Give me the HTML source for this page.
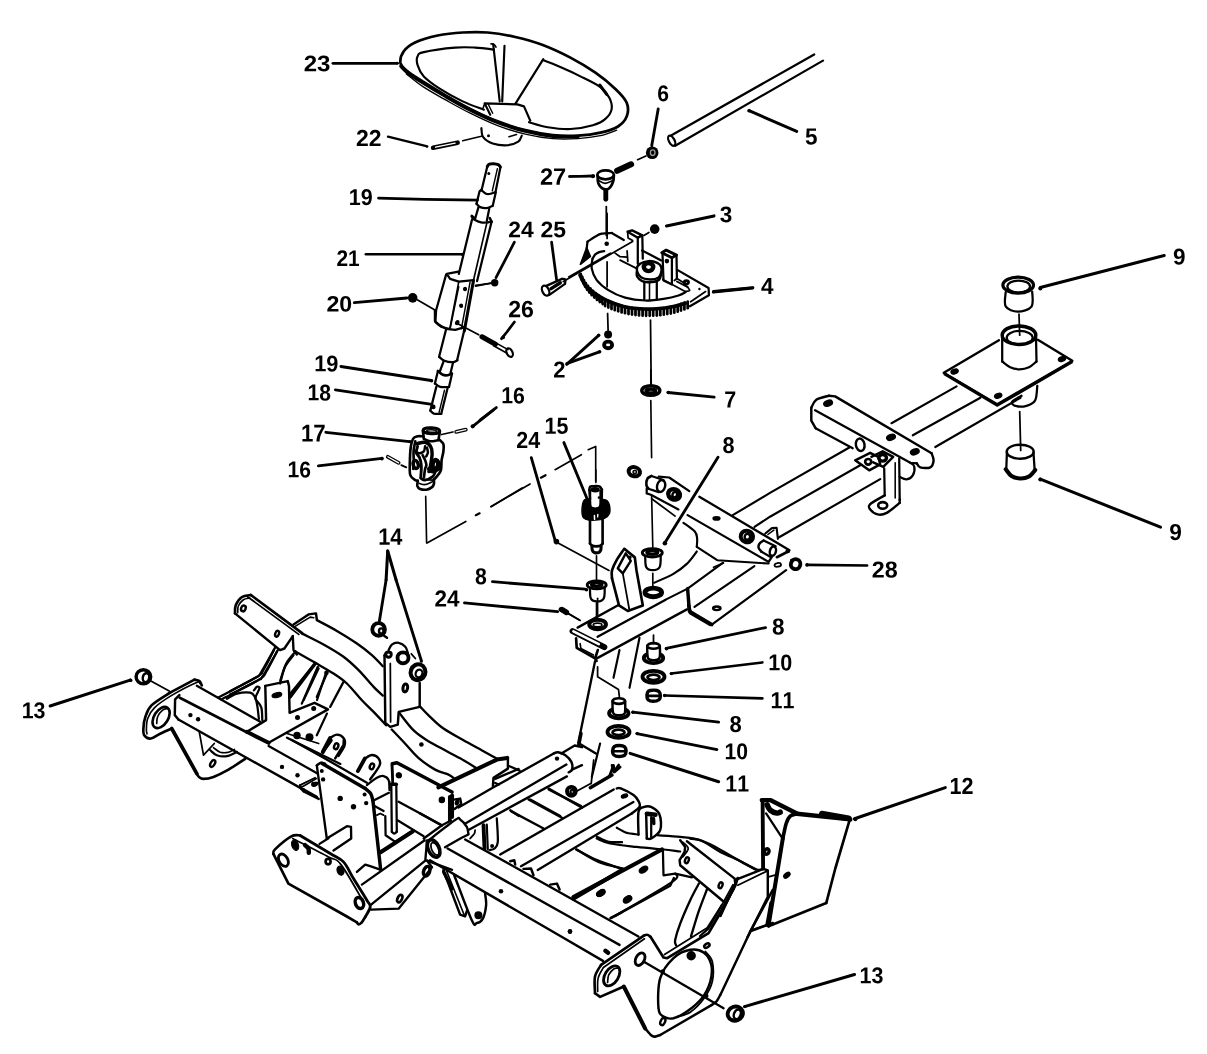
<!DOCTYPE html>
<html><head><meta charset="utf-8"><title>Steering Assembly Diagram</title>
<style>html,body{margin:0;padding:0;background:#fff}svg{display:block;filter:grayscale(1)}text{font-family:"Liberation Sans",sans-serif;font-weight:700;fill:#000;stroke:none;text-rendering:geometricPrecision;font-kerning:none;font-feature-settings:"kern" 0,"liga" 0}</style></head>
<body><svg width="1207" height="1054" viewBox="0 0 1207 1054">
<rect width="1207" height="1054" fill="#fff"/>
<g fill="none" stroke="#000" stroke-linecap="round" stroke-linejoin="round">
<path d="M400.5 63.1 C399.9 59.7 401.4 54.7 403.8 51.3 C406.2 47.9 409.4 45.2 415.1 42.5 C420.7 39.9 429.7 37.2 437.6 35.5 C445.5 33.9 454.3 33 462.7 32.5 C471 32 478.9 31.8 487.7 32.5 C496.5 33.3 506.1 34.9 515.3 37 C524.4 39.1 533.6 41.6 542.8 45 C552 48.5 561.6 53 570.4 57.6 C579.1 62.2 587.9 67.4 595.4 72.6 C602.9 77.8 610.2 83.9 615.4 88.9 C620.7 93.9 624.8 98.1 626.7 102.7 C628.6 107.2 628.2 112.5 626.7 116.4 C625.3 120.4 622.3 123.7 618 126.5 C613.6 129.2 607.1 131.2 600.4 132.7 C593.7 134.3 585.8 135.3 577.9 135.7 C569.9 136.1 561.6 136.1 552.8 135.2 C544.1 134.3 534.5 132.5 525.3 130.2 C516.1 127.9 506.9 125 497.7 121.4 C488.5 117.9 478.9 113.3 470.2 108.9 C461.4 104.5 453.1 99.7 445.1 95.1 C437.2 90.6 428.8 85.3 422.6 81.4 C416.3 77.4 411.2 74.4 407.6 71.3 C403.9 68.3 401.2 66.4 400.5 63.1Z" stroke-width="2.75" fill="none"/>
<path d="M401 66.3 C402.1 67.4 404 69.9 407.6 72.6 C411.1 75.3 416.3 78.7 422.6 82.6 C428.8 86.5 437.2 91.6 445.1 96.1 C453.1 100.7 461.4 105.5 470.2 109.9 C478.9 114.3 488.5 118.9 497.7 122.4 C506.9 126 516.1 128.9 525.3 131.2 C534.5 133.5 544.1 135.3 552.8 136.2 C561.6 137.1 573.7 136.6 577.9 136.7" stroke-width="3.45" fill="none"/>
<path d="M406.3 73.9 C409 75.9 416.1 82.1 422.6 86.4 C429.1 90.7 437.2 95.2 445.1 99.7 C453.1 104.1 461.4 108.8 470.2 113.2 C478.9 117.5 488.5 122.2 497.7 125.7 C506.9 129.2 516.1 132 525.3 134.2 C534.5 136.4 544.1 138 552.8 138.7 C561.6 139.5 569.9 139.2 577.9 138.7 C585.8 138.2 593.9 137.1 600.4 135.7 C606.9 134.3 614 131.1 616.7 130.2" stroke-width="1.35" fill="none"/>
<path d="M494 49.6 C490.8 49.2 481.7 47.9 475.2 47.6 C468.7 47.2 463.7 46.8 455.1 47.6 C446.6 48.3 430.1 50.6 423.8 52.1 C417.6 53.5 418.6 54.1 417.6 56.3 C416.5 58.5 416.5 61.7 417.6 65.1 C418.6 68.4 420.1 72.4 423.8 76.4 C427.6 80.3 433.6 84.7 440.1 88.9 C446.6 93.1 455.4 97.9 462.7 101.4 C470 104.9 480.4 108.3 483.9 109.7" stroke-width="2.15" fill="none"/>
<path d="M542.8 60.1 C545.7 61.2 554.1 64.4 560.3 67.1 C566.6 69.8 573.7 73 580.4 76.4 C587.1 79.7 595.6 83.6 600.4 87.1 C605.2 90.7 607.3 94 609.2 97.6 C611.1 101.3 612.3 105.4 611.7 108.9 C611.1 112.5 608.6 116.2 605.4 118.9 C602.3 121.7 598.7 123.5 592.9 125.2 C587.1 126.9 577.9 128.6 570.4 129 C562.8 129.3 554.7 128.3 547.8 127.2 C540.9 126.1 532.2 123 529 122.2" stroke-width="2.15" fill="none"/>
<path d="M599.9 85.1 L606.7 94.4" stroke-width="3.05" fill="none"/>
<path d="M493.2 44.3 L499.7 101.4" stroke-width="2.15" fill="none"/>
<path d="M504.5 45.8 L502.2 101.4" stroke-width="2.15" fill="none"/>
<path d="M491 43.8 C491.5 43.9 493.1 44 494 44.5 C494.8 45.1 495.6 46.6 496 47.1" stroke-width="1.65" fill="none"/>
<path d="M543.3 59.1 L515.3 103.9" stroke-width="2.15" fill="none"/>
<path d="M490.2 114.7 L484.7 103.4 L517.3 104.4 L524 106.4 L530.3 120.7" stroke-width="2.15" fill="none"/>
<path d="M484.7 103.4 L483.2 107.7" stroke-width="1.65" fill="none"/>
<path d="M488.5 104.7 L492.7 113.2" stroke-width="1.45" fill="none"/>
<path d="M481.4 128.2 C481.7 129.7 481.3 134.7 483.2 137.2 C485.1 139.8 488.6 142.1 492.7 143.5 C496.8 144.8 503.5 145.5 507.7 145.2 C512 144.9 515.9 143.3 518.3 141.7 C520.6 140.1 521.2 136.7 521.8 135.7" stroke-width="2.15" fill="none"/>
<circle cx="488.5" cy="135.7" r="1.5" fill="#000" stroke="none"/>
<path d="M509 136.7 L516.5 134.5" stroke-width="1.65" fill="none"/>
<path d="M433.1 147.7 L457.6 142.7" stroke-width="4.65" fill="none"/>
<path d="M435.6 147.2 L455.1 143.2" stroke-width="1.35" fill="none" stroke="#fff"/>
<path d="M462.7 140.7 L481.4 136.2" stroke-width="1.55" fill="none"/>
<path d="M388 136.7 L426.3 146.2" stroke-width="2.35" fill="none"/>
<circle cx="427.1" cy="146.5" r="1.3" fill="#000" stroke="none"/>
<path d="M332.9 63.3 L397.5 63.3" stroke-width="2.75" fill="none"/>
<circle cx="397" cy="63.1" r="1.3" fill="#000" stroke="none"/>
<path d="M487.3 166.4 C487.7 166 488.3 164.6 489.3 164.2 C490.4 163.7 492 163.6 493.5 163.7 C495 163.8 497 164.1 498.2 164.7 C499.3 165.2 500 166.6 500.4 167" stroke-width="3.05" fill="none"/>
<path d="M487.3 166.4 L481.5 190.4" stroke-width="2.25" fill="none"/>
<path d="M500.4 167.4 L495.5 192.1" stroke-width="2.25" fill="none"/>
<path d="M497.4 168.7 L492.3 190.9" stroke-width="1.45" fill="none"/>
<circle cx="488.8" cy="173.4" r="1.5" fill="#000" stroke="none"/>
<path d="M481.5 190.1 C482.2 190.7 484.4 193.1 486 193.7 C487.6 194.4 489.4 194 491 193.7 C492.6 193.5 494.8 192.3 495.5 192.1" stroke-width="2.25" fill="none"/>
<path d="M481.5 189.7 L479.5 191.4 L476.5 203.8" stroke-width="2.25" fill="none"/>
<path d="M495.7 192.7 L492.8 205.4" stroke-width="2.25" fill="none"/>
<path d="M476.5 203.8 C477.1 204.3 478.4 206.4 480.2 207.1 C481.9 207.8 484.7 208.3 486.8 208.1 C488.9 207.9 491.8 206.2 492.8 205.8" stroke-width="2.25" fill="none"/>
<path d="M478.5 207.1 L475.1 218.8" stroke-width="2.25" fill="none"/>
<path d="M489.3 208.4 L486.8 221" stroke-width="2.25" fill="none"/>
<path d="M472.1 217.1 C472.6 217.6 473.7 219.3 475.1 220.1 C476.6 221 479 221.9 481 222.3 C482.9 222.7 485.1 222.6 486.8 222.5 C488.6 222.3 490.7 221.6 491.5 221.5" stroke-width="2.25" fill="none"/>
<path d="M471.8 216.1 L474.6 218.5" stroke-width="2.85" fill="none"/>
<path d="M489.8 218.1 L491.7 221.8" stroke-width="2.45" fill="none"/>
<path d="M472.1 219.3 L458.8 273.9" stroke-width="2.25" fill="none"/>
<path d="M486.8 223.1 L473.5 280.2" stroke-width="1.65" fill="none"/>
<path d="M491.5 222.1 L477.1 281.1" stroke-width="2.25" fill="none"/>
<path d="M458.4 271.6 L446.8 273.9 L450.1 278.9 L458.8 281.6 L473.5 280.2" stroke-width="2.25" fill="none"/>
<path d="M446.1 274.6 L436.1 310.3 L435.4 322 L441.7 327 L450.1 329" stroke-width="2.25" fill="none"/>
<path d="M458.8 281.6 L449.8 328.7" stroke-width="1.65" fill="none"/>
<path d="M473.5 280.6 L464.3 331" stroke-width="3.05" fill="none"/>
<path d="M470.1 281.9 L461.4 328.7" stroke-width="1.45" fill="none"/>
<circle cx="465.1" cy="288.6" r="1.8" fill="#000" stroke="none"/>
<circle cx="461.1" cy="305.3" r="1.8" fill="#000" stroke="none"/>
<circle cx="457.6" cy="322" r="2" fill="#000" stroke="none"/>
<path d="M378.5 198.1 L425 199.4 L477.6 200.1" stroke-width="2.65" fill="none"/>
<path d="M365.9 254.2 L462.1 254.2" stroke-width="2.65" fill="none"/>
<circle cx="462.1" cy="254.2" r="1.5" fill="#000" stroke="none"/>
<path d="M514.4 242.2 L496 277.7" stroke-width="2.75" fill="none"/>
<circle cx="494.7" cy="282.7" r="3.7" fill="#000" stroke="none"/>
<path d="M475.5 286.2 L491 283.2" stroke-width="1.75" fill="none"/>
<path d="M551.6 242.2 L556.6 279.9" stroke-width="2.75" fill="none"/>
<ellipse cx="545.6" cy="290.6" rx="3.3" ry="5.3" stroke-width="2.25" fill="none" transform="rotate(-25 545.6 290.6)"/>
<path d="M546.3 285.9 L562 278.9" stroke-width="2.25" fill="none"/>
<path d="M549.4 294.9 L565 283.9" stroke-width="2.25" fill="none"/>
<path d="M562 278.9 C562.5 279 564.8 278.6 565.3 279.4 C565.8 280.2 565 283.2 565 283.9" stroke-width="2.25" fill="none"/>
<path d="M551.1 288.6 L560.3 282.7" stroke-width="3.45" fill="none"/>
<path d="M568.7 276.9 L610.4 253.2" stroke-width="1.75" fill="none"/>
<path d="M514.4 322 L506.9 332 L501.5 338.7" stroke-width="2.75" fill="none"/>
<path d="M569.5 176.4 L592 176" stroke-width="2.45" fill="none"/>
<circle cx="592.9" cy="176.2" r="2" fill="#000" stroke="none"/>
<path d="M434.9 310.1 L434.9 320.9 L438.6 324.8 L446.1 328.8 L455.3 329.8 L464 327.4" stroke-width="2.25" fill="none"/>
<path d="M450.3 327.6 L458.7 286.7" stroke-width="1.65" fill="none"/>
<circle cx="465" cy="289.2" r="2" fill="#000" stroke="none"/>
<circle cx="461.2" cy="305.9" r="2" fill="#000" stroke="none"/>
<circle cx="457" cy="323.1" r="2.2" fill="#000" stroke="none"/>
<path d="M475.7 285.3 L492.9 283" stroke-width="1.75" fill="none"/>
<path d="M457.8 323.7 L478.7 334.8" stroke-width="1.75" fill="none"/>
<path d="M482 336.8 L495.4 344.3" stroke-width="5.05" fill="none"/>
<path d="M446.1 329.3 L439.1 356.8" stroke-width="2.25" fill="none"/>
<path d="M464.7 328.4 L457.1 360.2" stroke-width="2.25" fill="none"/>
<path d="M439.1 356.8 C440 357.5 442.2 359.9 444.5 360.8 C446.7 361.7 450.6 362.3 452.8 362.2 C455 362 456.7 360.5 457.5 360.2" stroke-width="2.25" fill="none"/>
<path d="M443.6 361.3 L440 371" stroke-width="2.25" fill="none"/>
<path d="M453 362.7 L450.6 372.8" stroke-width="2.25" fill="none"/>
<path d="M437.9 371 C438.8 371.6 441.1 374.2 442.8 374.8 C444.4 375.5 446.3 375.4 447.8 375.2 C449.3 375 451 373.8 451.6 373.5" stroke-width="2.65" fill="none"/>
<path d="M437.9 371.3 L434.9 383.5" stroke-width="2.25" fill="none"/>
<path d="M452.1 373.5 L449 386.9" stroke-width="2.25" fill="none"/>
<path d="M434.9 383.5 C435.8 384.1 437.9 386.3 440.3 386.9 C442.6 387.5 447.5 387.1 449 387.2" stroke-width="2.25" fill="none"/>
<path d="M436.3 386.9 L430.3 410.6" stroke-width="2.25" fill="none"/>
<path d="M447.5 388.5 L441.3 413.6" stroke-width="2.25" fill="none"/>
<path d="M430.3 410.6 C430.9 411.1 432.1 413 433.9 413.6 C435.8 414.1 440.1 413.9 441.3 413.9" stroke-width="2.25" fill="none"/>
<path d="M444.5 390.2 L439.1 412.3" stroke-width="1.45" fill="none"/>
<circle cx="433.3" cy="406.9" r="2.3" fill="#000" stroke="none"/>
<path d="M354.3 302.7 L406.9 298" stroke-width="2.85" fill="none"/>
<circle cx="412.7" cy="297.9" r="4.8" fill="#000" stroke="none"/>
<path d="M417.7 300 L434.9 310.1" stroke-width="1.75" fill="none"/>
<path d="M340.9 366.5 L431.1 380.5" stroke-width="2.85" fill="none"/>
<circle cx="431.6" cy="380.7" r="1.7" fill="#000" stroke="none"/>
<path d="M335.4 389.9 L431.9 404.4" stroke-width="2.85" fill="none"/>
<path d="M325.9 432.3 L409.4 441.6" stroke-width="2.85" fill="none"/>
<circle cx="409.9" cy="441.6" r="1.7" fill="#000" stroke="none"/>
<ellipse cx="431.4" cy="430.7" rx="8.3" ry="3" stroke-width="3.05" fill="none" transform="rotate(3 431.4 430.7)"/>
<ellipse cx="431.6" cy="431" rx="4.8" ry="1.3" stroke-width="1.55" fill="none" transform="rotate(3 431.6 431)"/>
<path d="M422.9 431 L423.9 438.8" stroke-width="2.65" fill="none"/>
<path d="M439.9 431.5 L438.4 440.1" stroke-width="2.65" fill="none"/>
<path d="M423.9 438.8 C424.9 439.2 427.7 441.1 430.1 441.3 C432.5 441.5 437 440.3 438.4 440.1" stroke-width="2.45" fill="none"/>
<path d="M422.6 436.3 C421.8 436.3 419.2 435.9 417.6 436.3 C416 436.7 414.4 436.7 413.2 438.6 C412.1 440.4 411.3 443.4 410.7 447.6 C410.1 451.8 409.9 459.3 409.8 463.9 C409.8 468.4 409.4 472.4 410.3 475.1 C411.2 477.8 413.8 479.2 415.1 480.1 C416.3 481.1 417.4 480.8 417.8 480.9" stroke-width="2.65" fill="none"/>
<path d="M439.5 439.8 C440.2 440.5 442.7 442.1 443.4 444.1 C444 446 443.7 448.7 443.4 451.3 C443.1 454 442.1 457 441.6 460.1 C441.2 463.2 441.6 467.6 440.9 470.1 C440.2 472.7 438.8 473.8 437.6 475.4 C436.5 477 434.5 478.9 433.9 479.6" stroke-width="2.65" fill="none"/>
<path d="M415.3 441.3 C415 443 413.8 447.8 413.6 451.3 C413.3 454.9 413.9 459.7 413.8 462.6 C413.8 465.5 413.3 467.8 413.2 468.9" stroke-width="2.65" fill="none"/>
<path d="M417 443.6 C418.3 443.4 422.8 441.8 425.1 442.3 C427.4 442.8 429.6 444.6 430.7 446.6 C431.9 448.5 432.2 450.5 432.1 453.8 C432.1 457.1 430.9 463.4 430.4 466.4 C429.8 469.3 429.1 470.7 428.9 471.6" stroke-width="3.45" fill="none"/>
<path d="M417.6 446.3 C417.4 447.4 416 450.7 416.3 452.6 C416.7 454.5 418.6 455.5 419.5 457.6 C420.3 459.7 421.1 461.8 421.3 465.1 C421.6 468.4 420.8 475.5 420.7 477.6" stroke-width="2.85" fill="none"/>
<path d="M425.1 446.3 C424.9 447.2 424.7 450.2 423.9 451.3 C423 452.5 421.1 453 420.1 453.2 C419.1 453.4 418 452.7 417.6 452.6" stroke-width="2.45" fill="none"/>
<path d="M422.6 455.1 C423 455.9 424.5 458.4 425.1 460.1 C425.7 461.8 426.4 463.6 426.4 465.1 C426.4 466.6 425.5 466.8 425.1 468.9 C424.7 470.9 424.1 476.2 423.9 477.6" stroke-width="2.65" fill="none"/>
<path d="M427 447.6 C427.1 448.4 428 451.1 427.9 452.6 C427.7 454.1 426.4 455.9 426.1 456.6" stroke-width="2.45" fill="none"/>
<ellipse cx="415.7" cy="464.5" rx="2.5" ry="4" stroke-width="3.45" fill="none" transform="rotate(-15 415.7 464.5)"/>
<ellipse cx="435.4" cy="464.5" rx="2.8" ry="4.5" stroke-width="4.45" fill="none" transform="rotate(10 435.4 464.5)"/>
<path d="M428.9 468.9 C429.5 469.3 431.1 471.6 432.6 471.6 C434.2 471.6 437 469.9 438.3 468.9 C439.5 467.8 439.8 465.7 440.1 465.1" stroke-width="3.95" fill="none"/>
<path d="M420.7 478.3 C421.5 478.6 423.1 480.4 425.1 480.1 C427.1 479.9 430.9 477.9 432.6 476.6 C434.3 475.4 434.7 473.3 435.1 472.6" stroke-width="2.65" fill="none"/>
<path d="M425.1 479.6 L432.6 480.1" stroke-width="1.65" fill="none"/>
<path d="M417.8 480.9 C417.8 481.7 417 484.4 417.3 485.8 C417.7 487.1 418.6 488.3 420.1 488.9 C421.6 489.5 424.4 489.9 426.4 489.7 C428.3 489.4 430.7 488.1 432 487.1 C433.2 486.2 433.6 485.2 433.9 483.9 C434.2 482.6 433.9 479.9 433.9 479.1" stroke-width="2.65" fill="none"/>
<path d="M419.1 483.3 C420.1 483.5 422.9 484.9 425.1 484.6 C427.4 484.4 431.4 482.1 432.6 481.6" stroke-width="1.55" fill="none"/>
<path d="M425.7 496.4 L426.6 542.8" stroke-width="1.65" fill="none"/>
<path d="M427 543 L465.8 521.5" stroke-width="1.75" fill="none"/>
<path d="M475.8 515.2 L479.6 513.3" stroke-width="2.25" fill="none"/>
<path d="M490.9 506.7 L522.2 487.9" stroke-width="1.75" fill="none"/>
<path d="M456.2 431.8 L465.8 429.7" stroke-width="3.76" fill="none"/>
<path d="M456.2 431.8 L465.8 429.7" stroke-width="1.28" fill="none" stroke="#fff"/>
<path d="M441.6 434.5 L452.9 432" stroke-width="1.75" fill="none"/>
<circle cx="472.7" cy="426.3" r="2.1" fill="#000" stroke="none"/>
<path d="M472.7 426.3 L493.4 410" stroke-width="2.85" fill="none"/>
<path d="M387.8 456.8 L398.6 462.9" stroke-width="3.76" fill="none"/>
<path d="M387.8 456.8 L398.6 462.9" stroke-width="1.28" fill="none" stroke="#fff"/>
<path d="M401.3 465.1 L406.3 467.4" stroke-width="1.75" fill="none"/>
<circle cx="381.9" cy="458.6" r="1.9" fill="#000" stroke="none"/>
<path d="M318.4 465.9 L381.9 458.3" stroke-width="2.85" fill="none"/>
<path d="M671.5 135.2 L814.2 54.5" stroke-width="2.25" fill="none"/>
<path d="M675.2 145.7 L823 60.6" stroke-width="2.25" fill="none"/>
<ellipse cx="671.7" cy="140.7" rx="2.8" ry="5.5" stroke-width="2.25" fill="none" transform="rotate(-28 671.7 140.7)"/>
<path d="M749.1 110.7 L796.7 131.4" stroke-width="2.95" fill="none"/>
<circle cx="749.1" cy="110.7" r="1.8" fill="#000" stroke="none"/>
<path d="M658.2 108.9 L651.7 145.7" stroke-width="2.85" fill="none"/>
<circle cx="652.2" cy="152.7" r="6.3" fill="#000" stroke="none"/>
<ellipse stroke="#999" cx="652.7" cy="152.7" rx="2.3" ry="2.8" stroke-width="1.35" fill="none"/>
<path d="M637.6 159.7 L645.9 156" stroke-width="1.75" fill="none"/>
<path d="M617.1 170.8 L631.1 164.3" stroke-width="6.05" fill="none"/>
<ellipse cx="605.6" cy="174.8" rx="8.3" ry="4.5" stroke-width="2.65" fill="none"/>
<path d="M597.6 175.8 C597.7 177 597.4 181.1 598.3 183.3 C599.2 185.5 601.3 188 603.1 188.8 C604.9 189.6 607.4 189.5 609.1 188.3 C610.8 187.1 612.3 184 613.1 181.8 C613.9 179.6 613.7 176.4 613.9 175.3" stroke-width="2.65" fill="none"/>
<path d="M598.3 180.3 C599.4 180.8 602.6 183.3 605.1 183.3 C607.6 183.3 612 180.8 613.4 180.3" stroke-width="1.65" fill="none"/>
<path d="M605.8 190.3 L605.8 199.3" stroke-width="4.85" fill="none"/>
<path d="M569.5 176.5 L592.1 176" stroke-width="2.45" fill="none"/>
<circle cx="593.3" cy="176" r="1.8" fill="#000" stroke="none"/>
<path d="M606.3 206.6 L606.3 235.4" stroke-width="1.75" fill="none"/>
<path d="M666.5 225.9 L714 215.9" stroke-width="3.05" fill="none"/>
<circle cx="654.7" cy="229.1" r="4.8" fill="#000" stroke="none"/>
<path d="M643.9 235.4 L648.9 232.4" stroke-width="1.75" fill="none"/>
<path d="M713.3 292 L752.9 288" stroke-width="2.85" fill="none"/>
<path d="M592.5 258.7 C592.4 260.4 591 264.9 591.7 268.4 C592.4 272 593.9 276.5 596.7 280.1 C599.5 283.7 603.7 287.2 608.4 290.1 C613.1 293.1 619 295.9 625.1 297.7 C631.2 299.4 638.7 300.3 645.1 300.5 C651.5 300.7 657.9 299.7 663.5 298.8 C669.1 298 674.9 296.6 678.5 295.5 C682.2 294.4 684.4 292.7 685.6 292.1" stroke-width="2.25" fill="none"/>
<path d="M592.5 258.7 C593 258.1 593.9 255.9 595 254.7 C596.2 253.6 597.7 252.7 599.2 252.1 C600.8 251.5 603.4 251.2 604.2 251.1" stroke-width="2.25" fill="none"/>
<path d="M580.7 273.8 L582 280.5" stroke-width="2.75" fill="none"/>
<path d="M582.3 277 L583.6 283.6" stroke-width="2.75" fill="none"/>
<path d="M583.9 280.1 L585.2 286.8" stroke-width="2.75" fill="none"/>
<path d="M585.8 283.1 L587.1 289.8" stroke-width="2.75" fill="none"/>
<path d="M588 285.9 L589.3 292.6" stroke-width="2.75" fill="none"/>
<path d="M590.4 288.5 L591.7 295.2" stroke-width="2.75" fill="none"/>
<path d="M593 290.9 L594.3 297.6" stroke-width="2.75" fill="none"/>
<path d="M595.7 293.2 L597 299.9" stroke-width="2.75" fill="none"/>
<path d="M598.5 295.4 L599.8 302.1" stroke-width="2.75" fill="none"/>
<path d="M601.4 297.5 L602.7 304.1" stroke-width="2.75" fill="none"/>
<path d="M605.1 299.3 L605.1 306" stroke-width="2.75" fill="none"/>
<path d="M608.3 300.9 L608.3 307.6" stroke-width="2.75" fill="none"/>
<path d="M611.5 302.3 L611.5 309" stroke-width="2.75" fill="none"/>
<path d="M614.8 303.5 L614.8 310.2" stroke-width="2.75" fill="none"/>
<path d="M618.2 304.7 L618.2 311.3" stroke-width="2.75" fill="none"/>
<path d="M621.6 305.7 L621.6 312.4" stroke-width="2.75" fill="none"/>
<path d="M625 306.6 L625 313.2" stroke-width="2.75" fill="none"/>
<path d="M628.5 307.3 L628.5 314" stroke-width="2.75" fill="none"/>
<path d="M632 307.9 L632 314.6" stroke-width="2.75" fill="none"/>
<path d="M635.5 308.4 L635.5 315.1" stroke-width="2.75" fill="none"/>
<path d="M639 308.8 L639 315.4" stroke-width="2.75" fill="none"/>
<path d="M642.6 309 L642.6 315.7" stroke-width="2.75" fill="none"/>
<path d="M646.1 309.2 L646.1 315.8" stroke-width="2.75" fill="none"/>
<path d="M649.7 309.2 L649.7 315.8" stroke-width="2.75" fill="none"/>
<path d="M653.2 309.1 L653.2 315.7" stroke-width="2.75" fill="none"/>
<path d="M656.8 308.8 L656.8 315.5" stroke-width="2.75" fill="none"/>
<path d="M660.3 308.5 L660.3 315.2" stroke-width="2.75" fill="none"/>
<path d="M663.8 308 L663.8 314.7" stroke-width="2.75" fill="none"/>
<path d="M667.3 307.5 L667.3 314.1" stroke-width="2.75" fill="none"/>
<path d="M670.8 306.8 L670.8 313.5" stroke-width="2.75" fill="none"/>
<path d="M674.3 306 L674.3 312.7" stroke-width="2.75" fill="none"/>
<path d="M677.7 305 L677.7 311.7" stroke-width="2.75" fill="none"/>
<path d="M681 303.9 L681 310.6" stroke-width="2.75" fill="none"/>
<path d="M684.4 302.7 L684.4 309.4" stroke-width="2.75" fill="none"/>
<path d="M687.7 301.5 L687.7 308.2" stroke-width="2.75" fill="none"/>
<path d="M580 275.1 C581 276.9 583.4 282.9 585.9 286 C588.4 289 591.6 291.1 595 293.5 C598.5 295.9 602 298.3 606.7 300.5 C611.5 302.7 617.9 305.1 623.4 306.5 C629 307.9 634.6 308.5 640.1 308.8 C645.7 309.2 651.3 309.2 656.8 308.8 C662.4 308.5 668.8 307.5 673.5 306.5 C678.3 305.6 683.3 303.7 685.2 303.2" stroke-width="3.65" fill="none"/>
<path d="M642.1 250.4 L661.2 260.4" stroke-width="2.25" fill="none"/>
<path d="M677.7 270.1 L708.6 288 L708.9 295.2 L689.9 306.2" stroke-width="2.25" fill="none"/>
<path d="M690.6 301.8 L705.6 291.5" stroke-width="1.65" fill="none"/>
<path d="M662.8 279.5 L685.2 291.5" stroke-width="1.75" fill="none"/>
<path d="M676.9 281.5 L687.7 287.1" stroke-width="1.75" fill="none"/>
<path d="M685.2 291.5 C685.9 291.3 689.1 291.2 689.6 290.5 C690 289.8 688 287.7 687.7 287.1" stroke-width="1.75" fill="none"/>
<ellipse cx="686.4" cy="282.3" rx="2.2" ry="1.7" stroke-width="2.65" fill="none"/>
<circle cx="699.4" cy="289" r="1.2" fill="#000" stroke="none"/>
<path d="M587.5 241.7 C588.8 240.9 592.7 238 595 236.7 C597.4 235.4 598.9 234.3 601.7 233.7 C604.5 233.1 610.1 233.1 611.7 233" stroke-width="2.25" fill="none"/>
<path d="M611.7 233 L623.8 240" stroke-width="2.25" fill="none"/>
<path d="M587.5 241.7 L586.7 248.4" stroke-width="2.25" fill="none"/>
<path d="M586.7 247.6 L580.4 264.3 L590.4 256.4 L586.7 247.6Z" stroke-width="1.55" fill="#000"/>
<circle cx="606.7" cy="243.7" r="2.3" fill="#000" stroke="none"/>
<path d="M607.1 213.3 L607.1 238.4" stroke-width="1.75" fill="none"/>
<path d="M607.1 261.8 L607.1 286.8" stroke-width="1.75" fill="none"/>
<path d="M607.6 313.5 L608.1 330.2" stroke-width="1.75" fill="none"/>
<path d="M563.3 281.5 L632.6 241.4" stroke-width="1.75" fill="none"/>
<path d="M615.1 253.1 L620.1 256.7 L627.1 257.1" stroke-width="1.75" fill="none"/>
<path d="M627.1 250.9 L627.8 261.4" stroke-width="1.75" fill="none"/>
<path d="M620.1 260.1 L636 268.1" stroke-width="1.75" fill="none"/>
<path d="M627.6 231.7 L632.1 230.4 L642.3 235.4 L637.8 237.7Z" stroke-width="2.45" fill="none"/>
<path d="M637.8 237.7 L637.8 263.8" stroke-width="2.25" fill="none"/>
<path d="M642.3 235.4 L642.8 258.7" stroke-width="2.25" fill="none"/>
<path d="M627.6 231.7 L628.1 238 L632.6 240.4" stroke-width="1.75" fill="none"/>
<path d="M661.8 252.7 L666.2 250.1 L676.5 255.1 L671.9 257.7Z" stroke-width="2.85" fill="none"/>
<path d="M662.5 253.4 L663.5 280.5 L671.9 284.5 L671.9 257.7" stroke-width="2.25" fill="none"/>
<path d="M676.5 255.1 L676.9 278.5" stroke-width="2.25" fill="none"/>
<circle cx="666.9" cy="261.1" r="2.3" fill="#000" stroke="none"/>
<path d="M674.4 280.5 L676.9 278.5 L686.9 284.8" stroke-width="1.75" fill="none"/>
<path d="M636.8 269.3 C636.7 267 638.2 265.1 640.1 263.8 C642.1 262.4 645.6 261.3 648.5 261.1 C651.3 260.9 655 261.8 657.2 262.8 C659.3 263.7 660.5 265 661.2 266.8 C661.8 268.5 661.5 271.6 661 273.4 C660.5 275.3 660 276.8 658.2 277.8 C656.4 278.8 653 279.6 650.2 279.5 C647.3 279.3 643.2 278.8 641 277.1 C638.7 275.4 636.9 271.5 636.8 269.3Z" stroke-width="2.45" fill="none"/>
<path d="M636.8 271.8 C636.8 272.6 636.2 274.9 637.1 276.4 C638 278 639.7 280.2 642.1 281.1 C644.6 282.1 649 282.4 651.8 282.1 C654.7 281.8 657.8 280.9 659.3 279.5 C660.9 278 660.9 274.4 661.2 273.4" stroke-width="2.45" fill="none"/>
<ellipse cx="648.5" cy="267.1" rx="4.7" ry="4" stroke-width="4.45" fill="none"/>
<path d="M644.3 281.8 L644.3 299.5" stroke-width="2.25" fill="none"/>
<path d="M656.8 281.1 L656.8 298.8" stroke-width="2.25" fill="none"/>
<path d="M649.5 282.1 L649.5 299.5" stroke-width="1.55" fill="none"/>
<path d="M713.6 291.5 L752.8 287.6" stroke-width="2.85" fill="none"/>
<circle cx="713.6" cy="291.8" r="1.5" fill="#000" stroke="none"/>
<circle cx="608.1" cy="334.4" r="4" fill="#000" stroke="none"/>
<ellipse cx="608.1" cy="344.9" rx="4" ry="3.3" stroke-width="3.85" fill="none"/>
<path d="M566.7 364.4 L598.4 335.6" stroke-width="2.85" fill="none"/>
<circle cx="598.7" cy="335.2" r="1.7" fill="#000" stroke="none"/>
<path d="M566.7 363.6 L599.4 351.9" stroke-width="2.85" fill="none"/>
<circle cx="599.7" cy="351.8" r="1.7" fill="#000" stroke="none"/>
<path d="M650.5 320.2 L651.2 384.5" stroke-width="1.75" fill="none"/>
<path d="M496.3 407.6 L480 420.1" stroke-width="2.85" fill="none"/>
<path d="M563.9 442.6 L587.7 500.2" stroke-width="2.85" fill="none"/>
<path d="M531.3 457.7 L555.1 540.3" stroke-width="2.85" fill="none"/>
<circle cx="556.4" cy="541.6" r="2.8" fill="#000" stroke="none"/>
<path d="M557.6 542.8 L609 570.4" stroke-width="1.75" fill="none"/>
<path d="M491.3 506.5 L530.1 484" stroke-width="1.65" fill="none"/>
<path d="M540.9 477.7 L545.6 475.2" stroke-width="2.15" fill="none"/>
<path d="M555.1 469.7 L581.4 454.7" stroke-width="1.65" fill="none"/>
<path d="M588.2 449.7 L595.7 446.4 L595.7 481.5" stroke-width="1.65" fill="none"/>
<path d="M582.7 503.5 C582.2 506.1 581.8 512.6 582.3 515.2 C582.7 517.8 583 518.1 585.2 519 C587.3 519.8 592 520.3 595.2 520.2 C598.4 520.1 602.1 519.6 604.4 518.5 C606.8 517.4 608.6 515.7 609.5 513.5 C610.3 511.3 609.9 507.3 609.5 505.1 C609 503 608.1 501.5 606.9 500.5 C605.8 499.6 605.1 499.6 602.3 499.3 C599.6 499 593.1 498.9 590.2 498.9 C587.3 498.9 586.4 498.5 585.2 499.3 C583.9 500.1 583.2 500.8 582.7 503.5Z" stroke-width="1.35" fill="#000"/>
<path d="M590.2 490.1 C590.2 492.6 590 502.1 590.4 505.1 C590.8 508.1 591.5 507.6 592.7 508.1 C593.9 508.6 596.5 508.6 597.7 508.1 C599 507.6 599.8 508.1 600.2 505.1 C600.7 502.1 600.4 492.6 600.4 490.1" stroke-width="2.15" fill="#fff"/>
<path d="M589.4 490.1 C589.5 489.5 589.3 487.4 590.2 486.7 C591.1 486.1 593.3 486.1 594.8 486.1 C596.3 486 598.2 485.8 599.4 486.4 C600.6 487 601.5 489.2 601.9 489.7" stroke-width="2.65" fill="#fff"/>
<path d="M589.4 490.1 L590 498.9" stroke-width="2.45" fill="none"/>
<path d="M601.9 489.7 L601.8 499.3" stroke-width="2.45" fill="none"/>
<ellipse cx="595.2" cy="489.7" rx="3.3" ry="1.4" stroke-width="2.65" fill="#fff"/>
<circle cx="599" cy="497.6" r="1.3" fill="#000" stroke="none"/>
<path d="M590 519.4 L590 543.6" stroke-width="2.65" fill="none"/>
<path d="M602.6 519.4 L602.6 543.6" stroke-width="2.65" fill="none"/>
<path d="M590 543.6 C590.4 544 591.3 545.3 592.3 545.7 C593.3 546.2 594.7 546.3 596.1 546.3 C597.4 546.3 599.3 546.2 600.4 545.7 C601.5 545.3 602.2 544 602.6 543.6" stroke-width="2.65" fill="none"/>
<path d="M591.9 545.7 C592 546.5 591.9 549.2 592.3 550.3 C592.7 551.5 593.3 552.1 594.4 552.5 C595.4 552.9 597.5 552.9 598.6 552.5 C599.6 552.1 600.3 551.1 600.8 550 C601.2 548.9 601 546.4 601.1 545.7" stroke-width="3.05" fill="none"/>
<path d="M594.4 515.6 L594.6 519.4" stroke-width="1.55" fill="none" stroke="#fff"/>
<path d="M597.7 514.3 L597.7 516.9" stroke-width="1.35" fill="none" stroke="#fff"/>
<path d="M595.9 470 L595.9 482.6" stroke-width="1.55" fill="none"/>
<path d="M596.5 555.9 L596.5 579.9" stroke-width="1.65" fill="none"/>
<ellipse cx="596.7" cy="584.9" rx="9.5" ry="4" stroke-width="2.85" fill="none"/>
<ellipse cx="596.7" cy="584.7" rx="5.3" ry="1.8" stroke-width="3.05" fill="none"/>
<path d="M590 588.4 C590.1 590.1 589.7 596.5 591 598.7 C592.2 600.9 595.1 601.5 597.2 601.4 C599.4 601.4 602.5 600.7 603.7 598.4 C605 596.2 604.6 589.7 604.7 587.9" stroke-width="2.25" fill="none"/>
<path d="M596.5 602.9 L596.5 620.5" stroke-width="1.65" fill="none"/>
<path d="M492.5 581.7 L585.2 589.2" stroke-width="2.85" fill="none"/>
<circle cx="586.5" cy="589.7" r="1.8" fill="#000" stroke="none"/>
<path d="M464.5 602.9 L480 604.4 L557.6 611.7" stroke-width="2.85" fill="none"/>
<path d="M560.7 609.5 L566.4 612.5" stroke-width="4.45" fill="none"/>
<path d="M568.2 613.5 L580.2 620.5" stroke-width="1.65" fill="none"/>
<ellipse cx="650.8" cy="390.5" rx="9" ry="4.8" stroke-width="3.45" fill="none"/>
<ellipse cx="650.8" cy="391" rx="4.8" ry="2" stroke-width="3.45" fill="none"/>
<path d="M650.8 370 L650.8 385" stroke-width="1.65" fill="none"/>
<path d="M650.8 400.6 L651.6 457.7" stroke-width="1.65" fill="none"/>
<path d="M667.9 392.5 L714.2 397.1" stroke-width="2.85" fill="none"/>
<circle cx="668.4" cy="392.5" r="1.8" fill="#000" stroke="none"/>
<path d="M718 457.2 L664.9 542.8" stroke-width="2.85" fill="none"/>
<circle cx="664.9" cy="543.3" r="2.3" fill="#000" stroke="none"/>
<ellipse cx="634.3" cy="471.7" rx="5.8" ry="4.5" stroke-width="4.05" fill="none" transform="rotate(15 634.3 471.7)"/>
<ellipse cx="634.8" cy="471.9" rx="1.8" ry="1.5" stroke-width="1.55" fill="none"/>
<ellipse cx="652.3" cy="552.8" rx="10" ry="4.2" stroke-width="2.85" fill="none"/>
<ellipse cx="652.3" cy="552.6" rx="5.5" ry="1.8" stroke-width="3.05" fill="none"/>
<path d="M645.2 556.5 C645.4 558.3 645 565 646.3 567.3 C647.5 569.6 650.6 570.2 652.9 570.2 C655.1 570.2 658.4 569.4 659.7 567 C661 564.7 660.6 557.8 660.7 556" stroke-width="2.25" fill="none"/>
<path d="M651.6 495.2 L652.8 547.3" stroke-width="1.65" fill="none"/>
<path d="M652.8 573.4 L652.8 586.7" stroke-width="1.65" fill="none"/>
<ellipse cx="653.3" cy="592.4" rx="8.3" ry="4.3" stroke-width="4.85" fill="none"/>
<path d="M624 549.1 C622.8 551 618.5 556.8 616.5 560.4 C614.5 563.9 612.8 567.4 612 570.4 C611.2 573.4 612 577.1 612 578.4" stroke-width="2.65" fill="none"/>
<path d="M612 578.4 L619 605.4 L627.8 611 L642.8 605.4 L636.5 570.4 L634.8 557.4 L624.3 548.8" stroke-width="2.65" fill="none"/>
<path d="M625.8 553.3 L617.8 568.4 L622.8 573.4 L630.8 560.9Z" stroke-width="2.45" fill="none"/>
<path d="M622.8 573.4 L629.3 609.5" stroke-width="1.75" fill="none"/>
<circle cx="629.8" cy="557.4" r="1.8" fill="#000" stroke="none"/>
<path d="M651.4 476 C650.7 476.5 648.2 477.2 647.4 478.7 C646.5 480.2 646.2 483.4 646.4 485 C646.5 486.7 648 488.1 648.4 488.7" stroke-width="2.65" fill="none"/>
<path d="M651.4 476 L663.4 480" stroke-width="2.25" fill="none"/>
<path d="M648.4 488.7 L658.7 492.1" stroke-width="2.25" fill="none"/>
<ellipse cx="661.1" cy="486" rx="4" ry="6" stroke-width="2.45" fill="none" transform="rotate(15 661.1 486)"/>
<ellipse cx="674.1" cy="494.4" rx="6" ry="5" stroke-width="4.45" fill="none" transform="rotate(20 674.1 494.4)"/>
<ellipse cx="674.8" cy="494.7" rx="2.3" ry="2.7" stroke-width="2.45" fill="none" transform="rotate(20 674.8 494.7)"/>
<path d="M658.7 476.7 L669.2 477.5 L689.3 491.1" stroke-width="2.25" fill="none"/>
<path d="M699.3 496.7 L789.5 550.2" stroke-width="2.25" fill="none"/>
<path d="M646.7 488.7 L646.7 493.4 L650.9 494.7 L678.4 509.4" stroke-width="2.25" fill="none"/>
<path d="M687.6 515.1 L768.6 561.9 L771.9 556.9" stroke-width="2.25" fill="none"/>
<path d="M651.7 498.7 L675.1 516.1" stroke-width="1.75" fill="none"/>
<path d="M683.4 522.8 C685.3 524.2 692.5 528.9 694.8 531.5 C697.1 534.1 696.8 535.9 697.1 538.5 C697.5 541 696.8 545.4 696.8 546.8" stroke-width="2.15" fill="none"/>
<path d="M696.8 546.8 L717.2 560.2 L768.6 563.5" stroke-width="2.15" fill="none"/>
<ellipse cx="716.5" cy="518.4" rx="3.3" ry="1.5" stroke-width="1.65" fill="#000"/>
<ellipse cx="746.9" cy="536.5" rx="6.2" ry="5.7" stroke-width="4.05" fill="none" transform="rotate(20 746.9 536.5)"/>
<ellipse cx="747.4" cy="536.8" rx="2.7" ry="3" stroke-width="2.45" fill="none" transform="rotate(20 747.4 536.8)"/>
<path d="M763.6 540.5 C762.9 541 760.4 542.3 759.6 543.5 C758.7 544.7 758.3 546.3 758.6 547.7 C758.9 549 760.8 550.9 761.2 551.5" stroke-width="2.45" fill="none"/>
<path d="M763.6 540.5 L775.6 546.2" stroke-width="2.25" fill="none"/>
<path d="M761.2 551.5 L770.6 556.9" stroke-width="2.25" fill="none"/>
<ellipse cx="772.9" cy="551.2" rx="3" ry="4.7" stroke-width="2.45" fill="none" transform="rotate(15 772.9 551.2)"/>
<path d="M776.9 557.2 L788.6 551.2" stroke-width="2.65" fill="none"/>
<circle cx="787.8" cy="551" r="2.3" fill="#000" stroke="none"/>
<path d="M765.3 533.5 L771.9 528.1 L776.6 527.8 L777.9 538.8" stroke-width="2.15" fill="none"/>
<path d="M767.9 534.5 L773.9 530.1" stroke-width="1.55" fill="none"/>
<path d="M654.2 582.7 C657.4 581.3 668 577 673.4 573.9 C678.8 570.7 682.9 567.6 686.8 563.9 C690.7 560.1 695.1 553.6 696.8 551.5" stroke-width="2.15" fill="none"/>
<path d="M665.2 599.9 L687.6 588.6 L710.2 572.2 L722.8 562.9" stroke-width="2.15" fill="none"/>
<path d="M713.5 567.2 L723.5 562.9" stroke-width="1.65" fill="none"/>
<path d="M687.6 588.6 L689.4 611.3 L711.8 624.6" stroke-width="3.45" fill="none"/>
<path d="M711.8 624.6 L786.1 570.2" stroke-width="2.15" fill="none"/>
<path d="M694.5 606.9 L754.4 566.2" stroke-width="2.15" fill="none"/>
<ellipse cx="716.8" cy="608.3" rx="3.7" ry="1.8" stroke-width="2.45" fill="none"/>
<ellipse cx="795.6" cy="564.2" rx="4.7" ry="5" stroke-width="3.85" fill="none" transform="rotate(20 795.6 564.2)"/>
<path d="M791.3 559.9 L797 559.2" stroke-width="2.45" fill="none"/>
<circle cx="807" cy="564.9" r="1.8" fill="#000" stroke="none"/>
<path d="M807 564.9 L867.1 565.5" stroke-width="2.65" fill="none"/>
<ellipse cx="777.8" cy="564.9" rx="3.3" ry="1.8" stroke-width="1.75" fill="none" transform="rotate(-10 777.8 564.9)"/>
<path d="M732.7 515.2 L770 492.9 L848.9 447.8" stroke-width="2.15" fill="none"/>
<path d="M891.5 423.2 L956.6 386.4" stroke-width="2.15" fill="none"/>
<path d="M754.5 526.9 L770 516.7 L860.2 465.3" stroke-width="2.15" fill="none"/>
<path d="M912.8 435.3 L980.4 397.7" stroke-width="2.15" fill="none"/>
<path d="M778.5 537.7 L780 536.7 L880.2 479.1" stroke-width="2.15" fill="none"/>
<path d="M935.3 447 L1020.5 397.7" stroke-width="2.15" fill="none"/>
<path d="M828.9 395.7 C826.8 396.3 819.3 397.7 816.3 399.7 C813.4 401.7 812.2 406.4 811.3 407.7" stroke-width="2.45" fill="none"/>
<path d="M811.3 407.7 L811.3 420.7 L815.6 428.2" stroke-width="2.45" fill="none"/>
<path d="M828.9 395.7 L835.1 396.4 L931.6 453.3" stroke-width="2.45" fill="none"/>
<path d="M931.6 453.3 C931.9 454.5 933.8 458 933.6 460.3 C933.4 462.6 932.5 466.1 930.3 467.3 C928.1 468.5 922.5 468 920.3 467.3 C918 466.6 917.4 464 916.8 463.3" stroke-width="2.45" fill="none"/>
<path d="M815.1 410.2 L910.3 462.8 L916.8 463.3" stroke-width="2.25" fill="none"/>
<path d="M815.6 428.2 L852.7 448.3" stroke-width="2.25" fill="none"/>
<path d="M910.3 462.8 C910.9 463.4 913.9 464.5 914.3 466.6 C914.7 468.7 914.1 473.2 912.8 475.3 C911.5 477.5 908.7 479.1 906.5 479.3 C904.3 479.6 900.9 477.3 899.7 476.8" stroke-width="2.25" fill="none"/>
<ellipse cx="828.1" cy="403.2" rx="4.5" ry="2.8" stroke-width="1.35" fill="#000" transform="rotate(-20 828.1 403.2)"/>
<ellipse cx="891" cy="437.3" rx="4.5" ry="2.8" stroke-width="1.35" fill="#000" transform="rotate(-20 891 437.3)"/>
<ellipse cx="914.8" cy="451.8" rx="4.5" ry="2.8" stroke-width="1.35" fill="#000" transform="rotate(-20 914.8 451.8)"/>
<ellipse cx="860.2" cy="444.8" rx="4.3" ry="6.3" stroke-width="2.45" fill="none" transform="rotate(-10 860.2 444.8)"/>
<path d="M855.2 460.3 L870.2 452.8 L878.2 456.8 L880.2 464.3 L869.2 470.3Z" stroke-width="2.45" fill="none"/>
<ellipse cx="868.2" cy="461.8" rx="3" ry="2.8" stroke-width="2.65" fill="none"/>
<path d="M871.4 456.8 L882.7 451.3 L893.2 456.8 L883.2 466.8 L873.2 462.3" stroke-width="2.45" fill="none"/>
<ellipse cx="882.7" cy="457.8" rx="3.8" ry="3.3" stroke-width="3.45" fill="none"/>
<path d="M884.2 468.3 L884.7 495.4" stroke-width="2.25" fill="none"/>
<path d="M899.2 458.3 L899.7 500.4" stroke-width="2.25" fill="none"/>
<path d="M895.2 462.8 L895.2 497.9" stroke-width="1.55" fill="none"/>
<path d="M884.7 495.4 C882.3 496.8 872.6 501.8 870.2 504.1 C867.8 506.5 868.9 507.7 870.2 509.4 C871.4 511.1 874.9 513.8 877.7 514.4 C880.5 515 883 514.8 886.7 512.9 C890.4 511 897.6 504.6 899.7 502.9" stroke-width="2.45" fill="none"/>
<path d="M899.7 502.9 L899.7 499.1" stroke-width="2.25" fill="none"/>
<ellipse cx="882.7" cy="505.4" rx="4.5" ry="3.3" stroke-width="2.65" fill="none"/>
<path d="M1040.3 287.6 L1164.2 255.6" stroke-width="3.05" fill="none"/>
<circle cx="1040.3" cy="288.4" r="2" fill="#000" stroke="none"/>
<ellipse cx="1018.2" cy="285.1" rx="15.3" ry="8" stroke-width="3.25" fill="none"/>
<ellipse cx="1018.7" cy="286.6" rx="11.3" ry="6" stroke-width="2.25" fill="none"/>
<path d="M1005.7 292.1 C1005.7 294.5 1003.7 303.1 1005.7 306.4 C1007.7 309.7 1013.4 311.6 1017.7 311.7 C1022 311.7 1029.1 310 1031.5 306.7 C1033.9 303.3 1032.1 294.1 1032.2 291.6" stroke-width="2.25" fill="none"/>
<path d="M1019 314.2 L1019.7 335.2" stroke-width="1.75" fill="none"/>
<ellipse cx="1019" cy="335.2" rx="16.8" ry="9.3" stroke-width="3.45" fill="none"/>
<ellipse cx="1019.7" cy="337.7" rx="13" ry="6.8" stroke-width="2.25" fill="none"/>
<path d="M1002.2 337 L1002.2 361.5" stroke-width="2.25" fill="none"/>
<path d="M1036 337 L1036.5 361.5" stroke-width="2.25" fill="none"/>
<path d="M1002.2 361.5 C1003.5 362.5 1007.3 366 1010.2 367.3 C1013.1 368.6 1016.6 369.3 1019.7 369.3 C1022.8 369.3 1026.2 368.6 1029 367.3 C1031.8 366 1035.2 362.5 1036.5 361.5" stroke-width="2.25" fill="none"/>
<path d="M998.9 340.2 L943.8 372.8 L997.2 404.3 L1072.3 360.8 L1037.8 339.7" stroke-width="2.45" fill="none"/>
<path d="M945.1 374.3 L997.2 405.3 L1071.3 362.3" stroke-width="3.05" fill="none"/>
<ellipse cx="954.6" cy="371.5" rx="3.8" ry="2.3" stroke-width="1.15" fill="#000" transform="rotate(-20 954.6 371.5)"/>
<ellipse cx="998.2" cy="395.8" rx="3.8" ry="2.3" stroke-width="1.15" fill="#000" transform="rotate(-20 998.2 395.8)"/>
<ellipse cx="1062" cy="359" rx="3.8" ry="2.3" stroke-width="1.15" fill="#000" transform="rotate(-20 1062 359)"/>
<path d="M1021.5 395.8 C1019.9 396.8 1013.2 399.9 1012.2 401.6 C1011.2 403.3 1012.8 405.1 1015.2 405.8 C1017.6 406.6 1023.1 406.8 1026.5 405.8 C1029.8 404.9 1033.5 403.7 1035.2 400.3 C1037 397 1036.9 388.2 1037.3 385.8" stroke-width="2.25" fill="none"/>
<path d="M1019.7 411.6 L1020.7 450.4" stroke-width="1.75" fill="none"/>
<ellipse cx="1020.2" cy="451.7" rx="13.5" ry="7" stroke-width="2.45" fill="none"/>
<path d="M1006.9 452.9 L1006.2 471" stroke-width="2.25" fill="none"/>
<path d="M1033.5 452.9 L1034.7 470.5" stroke-width="2.25" fill="none"/>
<path d="M1005.7 469.2 C1006.7 470.3 1009 474.4 1011.5 476 C1013.9 477.5 1017.3 478.4 1020.2 478.5 C1023.1 478.6 1026.5 477.9 1029 476.5 C1031.5 475.1 1034.2 471 1035.2 470" stroke-width="4.05" fill="none"/>
<path d="M1040.3 479.2 L1160.5 527.1" stroke-width="3.05" fill="none"/>
<circle cx="1040.3" cy="479.5" r="2" fill="#000" stroke="none"/>
<ellipse cx="143.4" cy="676.7" rx="7.3" ry="7" stroke-width="3.45" fill="none"/>
<ellipse cx="146" cy="677.7" rx="3.2" ry="4.5" stroke-width="2.45" fill="none" transform="rotate(10 146 677.7)"/>
<circle cx="130.8" cy="680.4" r="1.7" fill="#000" stroke="none"/>
<path d="M150.9 681.1 L169.2 691.1" stroke-width="1.75" fill="none"/>
<path d="M201.8 685.4 C201.4 684.7 200.7 682 199.5 681.1 C198.2 680.1 195.3 679.9 194.5 679.7" stroke-width="2.65" fill="none"/>
<path d="M194.5 679.7 L170.1 692.6" stroke-width="2.65" fill="none"/>
<path d="M170.1 692.6 C167 694.7 155.8 701.1 151.7 705.1 C147.6 709.1 146.8 712.9 145.4 716.8 C144 720.7 143.5 725.4 143.4 728.5 C143.2 731.6 143.1 733.8 144.4 735.5 C145.6 737.2 148.3 738.8 150.9 738.5 C153.5 738.2 156.6 735.5 160.1 733.8 C163.5 732.2 169.8 729.4 171.7 728.5" stroke-width="2.65" fill="none"/>
<path d="M171.7 728.5 L196.8 773.6" stroke-width="3.65" fill="none"/>
<path d="M196.8 773.6 C197.2 774.2 198.2 776.4 199.3 777.2 C200.4 778.1 201.1 779 203.5 778.9 C205.8 778.9 209.3 778.5 213.5 776.9 C217.7 775.3 223.2 772.6 228.5 769.6 C233.8 766.6 242.4 760.7 245.2 758.9" stroke-width="2.65" fill="none"/>
<path d="M200.1 683.7 C199.5 683.6 200.9 680.8 196.1 682.7 C191.4 684.7 178.7 691.2 171.7 695.4 C164.8 699.6 158.4 703.9 154.4 707.8 C150.4 711.6 149 714.8 147.7 718.5 C146.4 722.1 146.5 726.9 146.4 729.5 C146.3 732 146.9 733.1 147 733.8" stroke-width="1.65" fill="none"/>
<ellipse cx="161.1" cy="717.5" rx="7" ry="11.7" stroke-width="2.65" fill="none" transform="rotate(32 161.1 717.5)"/>
<path d="M156.7 723.5 C156.9 722.4 156.6 719 157.6 716.8 C158.5 714.6 160.9 711.5 162.6 710.1 C164.2 708.7 166.7 708.7 167.6 708.4" stroke-width="1.65" fill="none"/>
<path d="M179.4 695.1 L175.1 699.4 L174.8 715.1 L178.4 719.5" stroke-width="2.45" fill="none"/>
<path d="M196.8 685.7 L260.2 721.8" stroke-width="2.25" fill="none"/>
<path d="M179.8 697.8 L247.7 732.7" stroke-width="2.65" fill="none"/>
<path d="M178.4 719.5 L300.3 787.9 L303.7 791.3" stroke-width="2.45" fill="none"/>
<path d="M268.6 746 L317 773.2" stroke-width="2.25" fill="none"/>
<circle cx="190.4" cy="715.1" r="2.2" fill="#000" stroke="none"/>
<circle cx="198.1" cy="719.3" r="2.2" fill="#000" stroke="none"/>
<circle cx="282" cy="766.9" r="2.2" fill="#000" stroke="none"/>
<circle cx="297.5" cy="775.2" r="2.2" fill="#000" stroke="none"/>
<path d="M287 737.7 L340.4 763.9" stroke-width="2.25" fill="none"/>
<path d="M273.9 650 C272.2 653.3 266.4 665.3 263.6 669.7 C260.8 674.2 263.9 672.5 257.2 676.7 C250.6 680.9 230 691.3 223.5 694.8 C217 698.2 219.1 697 218.2 697.4" stroke-width="2.25" fill="none"/>
<path d="M276.9 651.7 C275.1 655.1 269 667.4 266.1 672 C263.2 676.7 266.1 675.2 259.4 679.4 C252.7 683.6 232.3 693.7 226 697.1 C219.7 700.4 222.3 699 221.5 699.4" stroke-width="2.25" fill="none"/>
<path d="M226.9 698.8 C228.5 697.9 233 694.8 236.9 693.7 C240.8 692.7 247.2 692.2 250.2 692.7 C253.2 693.3 253.7 695 254.9 697.1 C256.1 699.2 256.6 701.8 257.2 705.4 C257.9 709.1 258.6 716.6 258.9 718.8" stroke-width="2.25" fill="none"/>
<path d="M253.9 690.4 C254.4 689.8 256 687.2 256.9 686.7 C257.9 686.3 259.4 686.8 259.6 687.7 C259.7 688.6 258.6 690.2 257.9 692.1 C257.2 693.9 255 696.3 255.6 698.8 C256.1 701.3 260.1 703.5 261.2 707.1 C262.4 710.7 262.1 718 262.3 720.1" stroke-width="2.25" fill="none"/>
<path d="M210.2 750.2 C211.3 751 214 754.2 216.8 755.2 C219.6 756.2 223.5 756.8 226.9 756.2 C230.2 755.6 235.2 752.6 236.9 751.9" stroke-width="2.25" fill="none"/>
<path d="M213.5 747.7 C214.6 748.4 217.7 751.4 220.2 752.2 C222.7 752.9 226.2 752.7 228.5 752.2 C230.9 751.7 233.4 749.8 234.4 749.4" stroke-width="1.65" fill="none"/>
<ellipse cx="212.7" cy="763.5" rx="2" ry="3.7" stroke-width="2.45" fill="none" transform="rotate(30 212.7 763.5)"/>
<path d="M199.3 731.8 L203.5 755.2 L214.3 743.5" stroke-width="1.75" fill="none"/>
<path d="M265.3 685.9 L287.8 681.1 L289 686.1 L289.6 712.8 L314.5 702.8 L328 709.4 L268.6 742.8" stroke-width="2.45" fill="none"/>
<path d="M246.9 731.8 L266.1 720.1 L265.3 685.9" stroke-width="2.45" fill="none"/>
<path d="M246.9 731.8 L268.6 742.8" stroke-width="4.05" fill="none"/>
<ellipse cx="276.9" cy="695.1" rx="5" ry="2.3" stroke-width="1.15" fill="#000" transform="rotate(-15 276.9 695.1)"/>
<circle cx="313.7" cy="708.4" r="2.5" fill="#000" stroke="none"/>
<circle cx="297.5" cy="717.6" r="2.5" fill="#000" stroke="none"/>
<path d="M289.6 694.4 L313.7 665" stroke-width="2.15" fill="none"/>
<path d="M303.7 700.1 L318.7 668.4" stroke-width="2.15" fill="none"/>
<path d="M317 700.1 L326.4 671.7" stroke-width="2.15" fill="none"/>
<path d="M280.3 680.4 C281.3 677.6 283.6 668.5 286.1 663.7 C288.7 658.9 294.1 653.4 295.6 651.3" stroke-width="2.25" fill="none"/>
<circle cx="297" cy="735.5" r="3.7" fill="#000" stroke="none"/>
<circle cx="309.5" cy="737.2" r="4" fill="#000" stroke="none"/>
<path d="M287 733.5 L318.7 743.5" stroke-width="1.75" fill="none"/>
<path d="M300.3 787.9 L316.4 778.6" stroke-width="1.75" fill="none"/>
<path d="M303.7 791.3 L318.7 798.9" stroke-width="2.45" fill="none"/>
<path d="M312.8 783.6 L317 783.3" stroke-width="3.05" fill="none"/>
<path d="M323.7 750.5 L331 740.5" stroke-width="3.45" fill="none"/>
<path d="M235 613.4 C235.1 612 234.7 607.8 235.8 605 C237 602.3 239.5 598.7 242 597 C244.5 595.4 249.4 595.4 250.9 595" stroke-width="2.65" fill="none"/>
<path d="M250.9 595 L302.1 633.1" stroke-width="2.65" fill="none"/>
<path d="M247.5 596.7 L298.8 634.4" stroke-width="1.75" fill="none"/>
<path d="M235 613.4 L280.1 650.1 L284.4 648.5 L292.8 636.1" stroke-width="2.45" fill="none"/>
<path d="M237.7 612.7 C237.8 611.6 237.4 608.2 238.3 606 C239.3 603.9 241.5 601 243.4 599.7 C245.3 598.4 248.6 598.3 249.7 598" stroke-width="1.65" fill="none"/>
<ellipse cx="243.4" cy="608.4" rx="2.2" ry="3" stroke-width="2.45" fill="none" transform="rotate(20 243.4 608.4)"/>
<ellipse cx="277.1" cy="633.8" rx="1.8" ry="3" stroke-width="2.45" fill="none" transform="rotate(20 277.1 633.8)"/>
<path d="M293.5 624.4 L308.5 614.4 L316 613.4 L316.8 619.4" stroke-width="2.45" fill="none"/>
<path d="M295.5 626.1 L310.2 617.1 L313.8 617.7" stroke-width="1.65" fill="none"/>
<path d="M316.8 620.1 C320.2 621.9 330.2 627 336.9 630.9 C343.5 634.8 351.1 639.4 356.9 643.5 C362.8 647.5 367.6 651.4 371.9 655.1 C376.2 658.9 381 664.3 382.8 666.2" stroke-width="2.35" fill="none"/>
<path d="M292.8 636.1 L293.5 650.1 L296.8 654.5" stroke-width="2.35" fill="none"/>
<path d="M301.8 633.4 C305.4 635.3 316.6 640.6 323.5 644.5 C330.5 648.4 337.7 652.5 343.5 656.8 C349.4 661.1 353.6 665.2 358.6 670.2 C363.6 675.2 369.6 682.6 373.6 686.9 C377.6 691.1 381.3 694.1 382.8 695.6" stroke-width="2.35" fill="none"/>
<path d="M294.5 651.1 C297.6 652.9 307 658.1 313.5 661.8 C320 665.6 328 669.9 333.5 673.5 C339.1 677.1 342.2 679.1 346.9 683.5 C351.6 688 357.2 695.2 361.9 700.2 C366.6 705.2 371.2 709.4 375.3 713.6 C379.3 717.8 384.3 723.3 386.1 725.3" stroke-width="2.35" fill="none"/>
<path d="M275.1 647.6 C272.6 651.9 263.7 668.5 260.4 673.5 C257.1 678.5 260.1 674.9 255 677.9 C250 680.8 234.2 689 230 691.2" stroke-width="2.25" fill="none"/>
<path d="M277.8 650.1 C275.3 654.5 266.1 671.1 262.7 676.2 C259.4 681.2 263 677.5 257.6 680.5 C252.1 683.6 234.6 692.2 230 694.6" stroke-width="2.25" fill="none"/>
<path d="M293.5 655.1 C292.1 657.1 287.3 662.1 285.1 666.8 C282.9 671.6 280.9 680.7 280.1 683.5" stroke-width="2.25" fill="none"/>
<path d="M315.2 663.5 L290.1 696.9" stroke-width="3.45" fill="none"/>
<path d="M317.8 666.8 L301.8 703.6" stroke-width="2.25" fill="none"/>
<path d="M326.9 673.5 L316.8 696.9" stroke-width="2.25" fill="none"/>
<path d="M343.5 681.9 L330.2 706.9" stroke-width="2.25" fill="none"/>
<circle cx="326.5" cy="672.8" r="2.3" fill="#000" stroke="none"/>
<path d="M326.9 713.6 L316.8 735.3" stroke-width="2.25" fill="none"/>
<path d="M384.5 655.5 C384.8 654.9 385.5 652.6 386.6 652.1 C387.7 651.7 390.4 652.7 391.1 652.8" stroke-width="2.45" fill="none"/>
<path d="M384.5 655.5 L385.3 722.9 L390.3 726.9 L397.8 724.6 L398.7 711.9 L419.7 706.9 L419.7 682.9" stroke-width="2.45" fill="none"/>
<path d="M390.3 663.5 L390.6 721.9" stroke-width="1.75" fill="none"/>
<ellipse cx="405.3" cy="687.9" rx="2.3" ry="4" stroke-width="3.05" fill="none" transform="rotate(10 405.3 687.9)"/>
<path d="M388.6 650.1 C389.2 649.2 390.3 645.7 392 644.5 C393.6 643.2 396.4 642.4 398.7 642.8 C400.9 643.2 403.8 645 405.3 646.8 C406.9 648.6 407.6 652.4 408 653.5" stroke-width="2.25" fill="none"/>
<ellipse cx="403" cy="657.8" rx="5.5" ry="5.5" stroke-width="3.85" fill="none"/>
<ellipse cx="388.6" cy="654.5" rx="2.7" ry="2.7" stroke-width="2.85" fill="none"/>
<path d="M411.3 653.8 L415.4 658.5" stroke-width="1.75" fill="none"/>
<ellipse cx="418" cy="672.2" rx="7.3" ry="8" stroke-width="4.05" fill="none" transform="rotate(20 418 672.2)"/>
<ellipse cx="419" cy="673.5" rx="3.3" ry="4" stroke-width="2.25" fill="none" transform="rotate(20 419 673.5)"/>
<ellipse cx="378.6" cy="629.4" rx="6.3" ry="6.3" stroke-width="3.85" fill="none"/>
<ellipse cx="381.3" cy="631.1" rx="2.3" ry="2.7" stroke-width="2.45" fill="none"/>
<path d="M383 635.1 L387 637.8" stroke-width="2.45" fill="none"/>
<path d="M386.1 580 L379.4 620.9" stroke-width="2.85" fill="none"/>
<path d="M396.1 580 L421.2 660.2" stroke-width="2.85" fill="none"/>
<circle cx="421.4" cy="661.2" r="1.5" fill="#000" stroke="none"/>
<path d="M330.2 738 C331.3 737.4 334.6 734.6 336.9 734.6 C339.1 734.6 342.3 736.2 343.5 738 C344.8 739.7 345.4 742.3 344.6 745.3 C343.7 748.3 339.5 754.2 338.5 756" stroke-width="2.45" fill="none"/>
<path d="M322.8 752 L330.2 738" stroke-width="4.05" fill="none"/>
<ellipse cx="336.2" cy="746.3" rx="2" ry="3" stroke-width="2.45" fill="none" transform="rotate(20 336.2 746.3)"/>
<path d="M291.7 740 L321.8 756.7 L366.9 782.7" stroke-width="2.25" fill="none"/>
<path d="M300.1 785.1 L315.1 777.7" stroke-width="1.75" fill="none"/>
<path d="M303.4 789.4 L316.8 796.8" stroke-width="2.45" fill="none"/>
<path d="M300.1 785.1 L301.4 788.8 L303.8 789.4" stroke-width="2.25" fill="none"/>
<ellipse cx="314.5" cy="784.4" rx="2.3" ry="1.2" stroke-width="2.45" fill="none" transform="rotate(-20 314.5 784.4)"/>
<path d="M316.8 765.4 C317.5 764.9 319.6 763 321 762.7 C322.4 762.4 324.4 763.5 325.1 763.7" stroke-width="2.45" fill="none"/>
<path d="M322.1 763.4 L365.2 788.4" stroke-width="3.45" fill="none"/>
<path d="M365.2 788.4 C366.1 789.3 369.3 791.4 370.6 793.4 C371.8 795.4 372.5 799.3 372.9 800.4" stroke-width="3.45" fill="none"/>
<path d="M316.8 765.4 L326.8 838.5" stroke-width="2.35" fill="none"/>
<path d="M372.9 800.4 L380.6 868.9" stroke-width="3.45" fill="none"/>
<circle cx="321.8" cy="770.9" r="2" fill="#000" stroke="none"/>
<circle cx="323.1" cy="779.4" r="2.2" fill="#000" stroke="none"/>
<circle cx="340.2" cy="798.4" r="2.7" fill="#000" stroke="none"/>
<circle cx="353.5" cy="806.8" r="2.7" fill="#000" stroke="none"/>
<circle cx="364.6" cy="794.4" r="2" fill="#000" stroke="none"/>
<circle cx="366.2" cy="803.1" r="2.2" fill="#000" stroke="none"/>
<path d="M326.8 838.5 L346.9 826.2 L351 826.8 L351.2 838.5 L333.5 850.5" stroke-width="2.35" fill="none"/>
<path d="M319.5 843.9 L328.5 838.2" stroke-width="2.25" fill="none"/>
<path d="M365.2 758.4 C366.3 757.8 369.7 755 371.9 755 C374.1 755 377.3 756.6 378.6 758.4 C379.9 760.1 381 761.9 379.6 765.4 C378.2 768.9 371.8 777.1 370.2 779.4" stroke-width="2.45" fill="none"/>
<path d="M357.9 771.1 L364.9 758.4" stroke-width="3.85" fill="none"/>
<ellipse cx="371.9" cy="766.4" rx="2" ry="3" stroke-width="2.45" fill="none" transform="rotate(20 371.9 766.4)"/>
<path d="M335.2 758.4 L343.5 745 L343.8 740" stroke-width="2.45" fill="none"/>
<path d="M366.9 785.1 C368.6 783.9 374.1 779.2 376.9 777.7 C379.7 776.2 381.6 775.7 383.6 776.1 C385.5 776.5 387.6 777.7 388.6 780.1 C389.6 782.4 389.4 788.4 389.6 790.1" stroke-width="2.25" fill="none"/>
<path d="M373.6 800.4 L388.9 792.8" stroke-width="2.25" fill="none"/>
<path d="M374.6 806.1 L383.6 811" stroke-width="2.25" fill="none"/>
<path d="M389.6 790.1 L389.6 781.7" stroke-width="1.75" fill="none"/>
<path d="M376.9 815.1 L380.2 813.5 L383.6 815.1" stroke-width="1.75" fill="none"/>
<path d="M392.3 763.7 L396.9 762.7 L452 792.1" stroke-width="3.45" fill="none"/>
<path d="M392.3 763.7 L392.9 783.7" stroke-width="2.35" fill="none"/>
<circle cx="399.1" cy="775.4" r="2.8" fill="#000" stroke="none"/>
<circle cx="442" cy="799.4" r="3" fill="#000" stroke="none"/>
<path d="M449.7 796.8 L449.7 820.2" stroke-width="3.45" fill="none"/>
<path d="M398.6 801.8 L442 825.2 L451 820.5" stroke-width="2.35" fill="none"/>
<path d="M442 825.2 L423.7 838.5" stroke-width="2.35" fill="none"/>
<path d="M391.3 784.4 L391.8 831.8" stroke-width="2.25" fill="none"/>
<path d="M396.3 784.4 L396.8 831.8" stroke-width="2.25" fill="none"/>
<path d="M391.8 831.8 C392.2 832.1 393.3 833.7 394.1 833.7 C394.9 833.7 396.3 832.1 396.8 831.8" stroke-width="2.25" fill="none"/>
<path d="M391.6 784.3 L396.3 784.3" stroke-width="3.45" fill="none"/>
<path d="M385.3 816.1 L385.6 835.2 L395.3 841.9 L410.3 832.2" stroke-width="2.25" fill="none"/>
<path d="M397.9 820.5 L423.7 836.2" stroke-width="2.25" fill="none"/>
<path d="M380.6 852.2 L413 831.2" stroke-width="4.05" fill="none"/>
<ellipse cx="433.7" cy="848.5" rx="5.5" ry="9.2" stroke-width="3.45" fill="none" transform="rotate(-25 433.7 848.5)"/>
<ellipse cx="435" cy="848.9" rx="3.3" ry="6.7" stroke-width="1.75" fill="none" transform="rotate(-25 435 848.9)"/>
<path d="M273.4 853.9 C273.7 853.1 272 852.3 275 849.4 C278.1 846.4 287.6 838.5 291.7 836.2 C295.9 833.9 298.7 835.6 300.1 835.5" stroke-width="2.65" fill="none"/>
<path d="M300.1 835.5 C305.1 838.5 322.9 849.2 330.2 853.5 C337.4 857.9 339.6 857.7 343.5 861.9 C347.4 866.1 349.6 872.2 353.5 878.6 C357.4 885 364.1 895.6 366.9 900.3 C369.7 905 370.5 904.2 370.2 907 C369.9 909.8 366.1 915.3 365.2 917" stroke-width="2.85" fill="none"/>
<path d="M292.7 838.5 C298.7 841.6 320.4 852.5 328.5 856.9 C336.5 861.2 335.2 857.1 341 864.6 C346.9 872.1 359.8 895.7 363.5 902" stroke-width="1.75" fill="none"/>
<path d="M273.4 853.9 L288.4 883.6 L346 916 L356.9 922.3" stroke-width="2.65" fill="none"/>
<path d="M365.2 917 C364.6 917.9 362.7 921.5 361.5 922.7 C360.4 923.9 359.3 924.4 358.5 924.3 C357.8 924.3 357.1 922.7 356.9 922.3" stroke-width="2.65" fill="none"/>
<ellipse cx="283.4" cy="860.2" rx="4.3" ry="6.7" stroke-width="2.85" fill="none" transform="rotate(-30 283.4 860.2)"/>
<ellipse cx="295.1" cy="845.2" rx="3.3" ry="5.3" stroke-width="1.15" fill="#000" transform="rotate(-20 295.1 845.2)"/>
<path d="M305.1 845.2 C305.7 845.8 307.8 847.3 308.4 848.5 C309.1 849.8 308.7 852 308.8 852.7" stroke-width="4.45" fill="none"/>
<ellipse cx="328.1" cy="861.6" rx="2.5" ry="2.8" stroke-width="2.65" fill="none"/>
<ellipse cx="340.5" cy="870.6" rx="3.3" ry="4.7" stroke-width="1.15" fill="#000" transform="rotate(-20 340.5 870.6)"/>
<ellipse cx="359.4" cy="903" rx="4" ry="5.7" stroke-width="3.45" fill="none" transform="rotate(-20 359.4 903)"/>
<path d="M356.9 871.9 L365.2 864.6 L370.2 866.2 L380.2 869.6" stroke-width="2.35" fill="none"/>
<path d="M361.9 884.6 L424.7 840.2" stroke-width="2.35" fill="none"/>
<path d="M370.2 905.3 L425.3 860.6 L427 840.5" stroke-width="2.35" fill="none"/>
<path d="M371.2 909.7 L398.6 908.7 L432 867.2 L427 860.6" stroke-width="2.35" fill="none"/>
<ellipse cx="426.7" cy="871.2" rx="3" ry="5" stroke-width="3.45" fill="none" transform="rotate(20 426.7 871.2)"/>
<ellipse cx="399.8" cy="898.6" rx="2.2" ry="4" stroke-width="2.65" fill="none" transform="rotate(25 399.8 898.6)"/>
<path d="M427 860.6 L452 869.9" stroke-width="2.35" fill="none"/>
<path d="M443.7 871.9 L452 888.6" stroke-width="3.45" fill="none"/>
<path d="M419.7 706.1 C421.5 707.9 426.1 713.1 430.1 716.8 C434 720.5 437.9 724.6 443.5 728.5 C449 732.4 456.8 736.4 463.5 740.2 C470.2 744 478 748.1 483.5 751.2 C489.1 754.3 494.7 757.3 496.9 758.6" stroke-width="2.35" fill="none"/>
<path d="M399.2 712.8 C401.6 715.7 408.8 725.6 413.4 730.2 C418 734.7 421.2 736.7 426.8 740.2 C432.3 743.7 440.7 747.9 446.8 751.2 C452.9 754.6 458.6 757.4 463.5 760.2 C468.4 763 474.1 766.6 476.2 767.9" stroke-width="2.35" fill="none"/>
<path d="M391.7 729.5 C393.9 731.8 400.6 738.8 405 743.5 C409.5 748.3 413.4 753.5 418.4 757.9 C423.4 762.2 430.1 766.8 435.1 769.6 C440.1 772.4 445.4 773.2 448.5 774.6 C451.5 776 452.6 777.4 453.5 777.9" stroke-width="2.35" fill="none"/>
<circle cx="421.4" cy="744.5" r="2.3" fill="#000" stroke="none"/>
<path d="M438.4 787.3 L496.9 759.6 L507.2 757.9" stroke-width="4.05" fill="none"/>
<path d="M507.9 757.9 L507.9 768.6 L493.5 777.9 L492.9 786.3" stroke-width="2.45" fill="none"/>
<path d="M495.2 778.9 L518.6 768.9" stroke-width="2.25" fill="none"/>
<path d="M509.6 766.2 L519.6 770.6" stroke-width="2.25" fill="none"/>
<path d="M495.2 782.9 L498.9 784.6" stroke-width="2.25" fill="none"/>
<path d="M452.1 795.3 L452.1 817" stroke-width="3.85" fill="none"/>
<circle cx="398.7" cy="775.3" r="3" fill="#000" stroke="none"/>
<circle cx="441.8" cy="800" r="3.2" fill="#000" stroke="none"/>
<path d="M391.7 764.6 L392.7 783.9" stroke-width="2.35" fill="none"/>
<path d="M453.5 799.6 L460.2 798.6 L461.2 804 L454.5 809" stroke-width="2.45" fill="none"/>
<ellipse cx="457.1" cy="802.3" rx="1.7" ry="2.7" stroke-width="1.15" fill="#000" transform="rotate(20 457.1 802.3)"/>
<path d="M458.5 807.5 L493.5 787.3 L553.7 753.5" stroke-width="2.35" fill="none"/>
<path d="M465.8 823.2 L566.4 764.6" stroke-width="2.35" fill="none"/>
<path d="M553.7 753.5 C554.4 753.3 556.1 751.9 558 752.2 C560 752.5 563.1 753.6 565.4 755.2 C567.6 756.8 570.2 759.5 571.4 761.9 C572.5 764.3 572.5 767.9 572 769.6 C571.6 771.3 569.2 771.8 568.7 772.3" stroke-width="2.45" fill="none"/>
<circle cx="557" cy="758.6" r="2.2" fill="#000" stroke="none"/>
<path d="M561.3 753.5 L574.7 745.5 L582 747.2" stroke-width="2.35" fill="none"/>
<path d="M572 769.6 L582 765.2" stroke-width="2.35" fill="none"/>
<path d="M530.3 799.6 L560.3 816" stroke-width="2.25" fill="none"/>
<path d="M548.7 788.6 L582 807.7" stroke-width="2.25" fill="none"/>
<path d="M510.2 810.3 L518.9 816" stroke-width="2.25" fill="none"/>
<ellipse cx="571.4" cy="791.3" rx="4.5" ry="4.5" stroke-width="3.65" fill="none"/>
<ellipse cx="572" cy="792" rx="1.7" ry="2" stroke-width="1.75" fill="none"/>
<path d="M581 733.5 L578.7 745.5" stroke-width="3.45" fill="none"/>
<path d="M469.3 829.5 L566.9 776.4" stroke-width="2.35" fill="none"/>
<path d="M426.7 841.8 C431.4 838.2 449.5 823.8 455.1 820.1 C460.6 816.4 458.1 818.3 460.1 819.4 C462 820.6 465.4 824.4 466.8 826.8 C468.1 829.2 468.1 832.6 468.4 833.8" stroke-width="2.35" fill="none"/>
<path d="M445 847.2 L461.7 837.8 L468.4 834.5" stroke-width="2.35" fill="none"/>
<path d="M470.1 838.5 C470.8 837.7 473.4 835.2 474.3 833.8 C475.1 832.4 475 830.7 475.1 830.1" stroke-width="1.75" fill="none"/>
<path d="M465.1 839.5 L510.2 864.5 L570 898.1 L638.4 936.5" stroke-width="2.35" fill="none"/>
<path d="M447.6 848.5 L603.7 936 L619.5 944.9" stroke-width="2.45" fill="none"/>
<path d="M430 860.2 L560.3 936 L603 960.9" stroke-width="2.45" fill="none"/>
<circle cx="501" cy="891.2" r="2.3" fill="#000" stroke="none"/>
<circle cx="570" cy="931.3" r="2.3" fill="#000" stroke="none"/>
<path d="M510.2 861.2 L514.3 860.2 L515.2 864.5" stroke-width="2.45" fill="none"/>
<path d="M523.5 868.9 L531 868.5 L533.5 875.2" stroke-width="2.45" fill="none"/>
<path d="M550.2 884.6 L556.9 883.6 L559.6 889.6" stroke-width="2.45" fill="none"/>
<path d="M500.2 854.5 L613.7 789.4" stroke-width="2.35" fill="none"/>
<path d="M521 866.2 L633.4 802.1" stroke-width="2.35" fill="none"/>
<path d="M537.7 869.9 L631.7 813.4" stroke-width="2.35" fill="none"/>
<path d="M511 811.1 L543.6 828.5" stroke-width="2.35" fill="none"/>
<path d="M528.5 799.4 L561.9 817.8" stroke-width="2.35" fill="none"/>
<path d="M548.6 789.4 L581.1 806.1" stroke-width="2.35" fill="none"/>
<ellipse cx="571.6" cy="791.1" rx="4.2" ry="4.2" stroke-width="2.85" fill="none"/>
<ellipse cx="572.3" cy="791.7" rx="1.7" ry="2" stroke-width="1.75" fill="none"/>
<path d="M577 791.1 L590.3 783.7" stroke-width="1.75" fill="none"/>
<path d="M590.3 787.7 L612 775" stroke-width="3.45" fill="none"/>
<path d="M593.7 760 L591.2 783.7" stroke-width="1.75" fill="none"/>
<path d="M612 765.3 L613.7 772 L618.7 765" stroke-width="2.65" fill="none"/>
<path d="M576.1 849.5 C579.6 851.3 589.3 857 597 860.2 C604.7 863.4 617.9 867.4 622 868.9" stroke-width="2.35" fill="none"/>
<path d="M597 836.8 C599 837.6 604.5 840.9 608.7 841.8 C612.9 842.7 619.8 842.1 622 842.2" stroke-width="2.35" fill="none"/>
<path d="M573.6 898.6 L622 869.9" stroke-width="4.05" fill="none"/>
<ellipse cx="600.3" cy="893.6" rx="4" ry="2.3" stroke-width="1.15" fill="#000" transform="rotate(-25 600.3 893.6)"/>
<path d="M610.4 918 L622 912.3" stroke-width="2.25" fill="none"/>
<path d="M443.4 870.2 L460.1 914.6 L465.1 916.3 L467.1 910.3" stroke-width="2.45" fill="none"/>
<path d="M446.7 871.2 L464.3 915.3" stroke-width="1.65" fill="none"/>
<path d="M454.2 875.2 C457.2 882.7 468 912.3 471.8 920.3 C475.5 928.3 474.9 923.3 476.8 923 C478.6 922.7 481.2 921.6 482.8 918.6 C484.3 915.7 485.7 909.4 486.1 905.3 C486.5 901.1 485.3 895.5 485.1 893.6" stroke-width="2.45" fill="none"/>
<circle cx="478.4" cy="915.3" r="4" fill="#000" stroke="none"/>
<path d="M483.5 825.1 L484.5 848.5" stroke-width="3.85" fill="none"/>
<path d="M486.8 824.5 L487.8 849.5" stroke-width="2.15" fill="none"/>
<path d="M496.8 818.4 C497 822.3 498.2 836.8 497.8 841.8 C497.4 846.8 495.9 847.1 494.5 848.5 C493.1 849.9 490.3 849.9 489.5 850.2" stroke-width="2.25" fill="none"/>
<circle cx="492.1" cy="846" r="2" fill="#000" stroke="none"/>
<path d="M420 813.4 L441.7 825.5" stroke-width="2.35" fill="none"/>
<path d="M613.3 747.8 C613.8 746.6 614.4 746.2 615.9 745.8 C617.5 745.5 621 745.4 622.6 745.8 C624.2 746.3 625.1 747 625.6 748.3 C626.1 749.7 626.2 752.6 625.6 753.9 C625.1 755.2 623.9 755.8 622.3 756.2 C620.7 756.6 617.5 756.6 615.9 756.2 C614.4 755.8 613.4 754.9 612.9 753.5 C612.5 752.1 612.8 749.1 613.3 747.8Z" stroke-width="3.45" fill="none"/>
<path d="M614.3 751.2 L624.3 751.2" stroke-width="2.65" fill="none"/>
<path d="M630.1 753.4 L718.6 781.7" stroke-width="3.05" fill="none"/>
<path d="M616.8 788.4 C617.4 788.4 618 787.3 620.8 788.4 C623.6 789.5 630.5 793 633.5 795.1 C636.4 797.2 637.5 799.2 638.5 801.1 C639.5 803.1 640.6 804.7 639.5 806.8 C638.4 808.9 633.1 812.4 631.8 813.5" stroke-width="2.45" fill="none"/>
<ellipse cx="624.5" cy="796.1" rx="3.3" ry="1.8" stroke-width="1.15" fill="#000" transform="rotate(-20 624.5 796.1)"/>
<path d="M616.8 827.8 C618.4 828.7 623.2 831.7 626.8 832.8 C630.4 834 636.5 834.2 638.5 834.5" stroke-width="2.25" fill="none"/>
<path d="M596.7 838.5 C599 839.4 603.4 842.1 610.1 843.5 C616.8 844.9 627.9 845.9 636.8 846.9 C645.7 847.9 656.3 848.8 663.5 849.5 C670.8 850.3 677.4 851.2 680.2 851.5" stroke-width="2.25" fill="none"/>
<path d="M656.9 835.2 C660.7 835.5 673 836 680.2 836.9 C687.5 837.7 693.6 837.7 700.3 840.2 C706.9 842.7 713.3 848.3 720.3 851.9 C727.3 855.5 736.2 858.9 742 861.9 C747.9 864.8 753.1 868.3 755.4 869.6" stroke-width="2.25" fill="none"/>
<path d="M576.7 849.5 C580.3 851.6 590.6 858.7 598.4 861.9 C606.2 865.1 619.3 867.5 623.5 868.6" stroke-width="2.25" fill="none"/>
<path d="M638.5 834.5 C638.5 830.7 637.6 816.4 638.5 811.8 C639.3 807.2 641.4 808 643.5 807.1 C645.6 806.3 648.3 805.6 651 806.8 C653.7 808 658 810.6 659.5 814.5 C661.1 818.4 661.6 826.2 660.2 830.2 C658.8 834.2 653.4 837.1 651.2 838.5 C648.9 839.9 647.6 838.5 646.8 838.5" stroke-width="2.45" fill="none"/>
<path d="M646.8 838.5 L646.2 815.1" stroke-width="2.45" fill="none"/>
<path d="M646.8 813.8 L655.5 814.8" stroke-width="4.45" fill="none"/>
<path d="M651.2 817.1 L651.2 837.9" stroke-width="2.25" fill="none"/>
<path d="M653.5 818.5 L653.8 823.5" stroke-width="3.45" fill="none"/>
<path d="M680.2 840.2 L685.2 846.9 L684.6 851.9 L679.6 860.2 L680.2 865.2 L725.3 903 L735.3 883.6 L734.7 878.6 L686.9 841.2" stroke-width="2.45" fill="none"/>
<path d="M682.9 842.2 C683.8 843.3 688.2 846.1 688.2 848.5 C688.2 851 683.8 855.5 682.9 856.9" stroke-width="1.75" fill="none"/>
<ellipse cx="686.9" cy="860.2" rx="1.8" ry="3" stroke-width="2.45" fill="none" transform="rotate(20 686.9 860.2)"/>
<ellipse cx="720.6" cy="885.3" rx="1.8" ry="3" stroke-width="2.45" fill="none" transform="rotate(20 720.6 885.3)"/>
<path d="M662.9 850.2 L663.5 875.3 L675.2 873.6 L691.9 877.3" stroke-width="2.25" fill="none"/>
<path d="M675.2 873.6 C674.7 875 682.2 874.9 672.2 881.9 C662.2 889 624.6 910.3 615.1 916" stroke-width="2.25" fill="none"/>
<path d="M573.4 897 L661.9 849.5" stroke-width="4.25" fill="none"/>
<ellipse cx="643.5" cy="869.6" rx="4.7" ry="2.7" stroke-width="1.15" fill="#000" transform="rotate(-32 643.5 869.6)"/>
<ellipse cx="600.9" cy="893" rx="4.7" ry="2.7" stroke-width="1.15" fill="#000" transform="rotate(-32 600.9 893)"/>
<ellipse cx="627.6" cy="899.6" rx="4.7" ry="2.7" stroke-width="1.15" fill="#000" transform="rotate(-32 627.6 899.6)"/>
<path d="M725.3 903 L718.6 916" stroke-width="2.25" fill="none"/>
<path d="M733.7 887.6 L720.6 916" stroke-width="2.25" fill="none"/>
<path d="M762.6 800.1 L763.1 868.5" stroke-width="3.85" fill="none"/>
<path d="M761.8 800.1 L770.2 800.1 L796.9 813.4" stroke-width="4.45" fill="none"/>
<path d="M767.1 804.8 C767.6 805.6 768.5 808.7 770.2 810.1 C771.8 811.5 775.2 812.8 776.8 813.1 C778.5 813.4 779.6 812.3 780.2 812.1" stroke-width="5.45" fill="none"/>
<path d="M766.1 813.4 L781.5 836.8" stroke-width="2.25" fill="none"/>
<ellipse cx="766.8" cy="851.5" rx="2.2" ry="2.8" stroke-width="3.45" fill="none" transform="rotate(20 766.8 851.5)"/>
<path d="M796.9 813.8 C795.8 814.2 792 814.5 790.2 816.1 C788.4 817.7 787.4 819.7 786.2 823.5 C785 827.2 783.4 836 782.8 838.5" stroke-width="3.65" fill="none"/>
<path d="M782.8 838.5 L768.5 925.6" stroke-width="4.05" fill="none"/>
<path d="M796.9 813.8 L850.3 819.4" stroke-width="4.45" fill="none"/>
<path d="M821.9 813.8 L848.6 818.4" stroke-width="5.95" fill="none"/>
<path d="M849.6 820.1 L835.3 868.5 L826.3 902.9" stroke-width="2.65" fill="none"/>
<path d="M768.5 926.3 L826.3 902.9" stroke-width="2.65" fill="none"/>
<ellipse cx="786.9" cy="875.2" rx="3.7" ry="2.2" stroke-width="1.15" fill="#000" transform="rotate(-40 786.9 875.2)"/>
<path d="M854.5 818.8 L945.3 787.6" stroke-width="3.05" fill="none"/>
<circle cx="855.3" cy="819.3" r="2" fill="#000" stroke="none"/>
<path d="M690 838.5 C691.7 838.8 695.8 838.8 700 840.2 C704.2 841.5 708.4 843.3 715 846.8 C721.7 850.3 733.1 857.4 740.1 861.2 C747.1 865 752.9 868.3 756.8 869.5 C760.7 870.8 762.4 868.7 763.5 868.5" stroke-width="2.35" fill="none"/>
<path d="M736.1 879.6 L763.5 868.9 L767.8 870.5 L767.8 896.9 L750.1 932 L747.6 937" stroke-width="2.45" fill="none"/>
<path d="M737.8 885.2 L766.8 871.2" stroke-width="1.75" fill="none"/>
<path d="M750.1 931.3 L768.5 924.6" stroke-width="2.45" fill="none"/>
<path d="M768.5 876.9 L776.8 874.6" stroke-width="1.75" fill="none"/>
<path d="M700 936 L708.4 928.7 L721.7 905.3" stroke-width="2.25" fill="none"/>
<path d="M711.7 927 L733.7 888.9" stroke-width="2.25" fill="none"/>
<path d="M595 993.2 C595 990.4 594 981.3 595 976.5 C596 971.8 600.1 966.8 601.1 964.8" stroke-width="2.65" fill="none"/>
<path d="M601.1 964.8 L643.5 935.8" stroke-width="2.65" fill="none"/>
<path d="M643.5 935.8 C644.1 935.6 646 934.6 647.1 934.8 C648.3 934.9 649.9 936.4 650.5 936.8" stroke-width="2.65" fill="none"/>
<path d="M650.5 936.8 L663.5 957.5 L667.2 958.2 L708.6 933.1 L725.3 904.7 L735.3 885.7 L737.7 878" stroke-width="2.65" fill="none"/>
<path d="M772.9 889.7 L750.3 931.4 L720.3 994.9" stroke-width="2.45" fill="none"/>
<path d="M720.3 994.9 C719.7 995.9 718.3 999.2 716.9 1000.9 C715.6 1002.6 712.8 1004.2 711.9 1004.9" stroke-width="2.45" fill="none"/>
<path d="M711.9 1004.9 L660.2 1035" stroke-width="2.45" fill="none"/>
<path d="M660.2 1035 C659.3 1035.2 656.6 1036.5 655.2 1036.6 C653.7 1036.7 653.2 1037 651.5 1035.6 C649.8 1034.2 646.2 1029.5 645.1 1028.3" stroke-width="2.65" fill="none"/>
<path d="M645.1 1028.3 L623.8 986.5" stroke-width="4.05" fill="none"/>
<path d="M623.8 986.5 L600.1 996.9 L595 993.2" stroke-width="2.65" fill="none"/>
<path d="M597.7 991.5 C597.8 989.3 597.1 982.2 598.1 978.2 C599 974.2 602.5 969.3 603.4 967.5" stroke-width="1.65" fill="none"/>
<path d="M603.4 967.5 L644.5 938.8" stroke-width="1.65" fill="none"/>
<path d="M664.5 954.5 L706.9 928.1 L723 903 L733 884.7" stroke-width="1.75" fill="none"/>
<ellipse cx="611.7" cy="975.9" rx="6.7" ry="11" stroke-width="2.85" fill="none" transform="rotate(32 611.7 975.9)"/>
<path d="M607.6 982.4 C607.8 981.1 607.7 977.1 608.7 974.9 C609.8 972.6 612.3 970.1 613.7 969 C615.2 967.9 617 968.3 617.6 968.2" stroke-width="1.65" fill="none"/>
<ellipse cx="640.1" cy="959.2" rx="4.3" ry="6.7" stroke-width="2.85" fill="none" transform="rotate(28 640.1 959.2)"/>
<path d="M658.5 1008.2 C657.9 1001.8 657.7 986.5 660.2 978.2 C662.7 969.8 668.5 962.9 673.5 958.2 C678.5 953.4 685.2 950.7 690.2 949.8 C695.2 948.9 700.1 950 703.6 952.5 C707.1 955 710.2 960 711.3 964.8 C712.4 969.7 711.8 976 710.3 981.5 C708.7 987.1 705.8 993.2 701.9 998.2 C698 1003.2 691.6 1008.2 686.9 1011.6 C682.2 1014.9 677.4 1017.4 673.5 1018.3 C669.6 1019.1 666 1018.3 663.5 1016.6 C661 1014.9 659.1 1014.6 658.5 1008.2Z" stroke-width="2.45" fill="none"/>
<path d="M705.3 951.5 C706.4 953.1 711.1 956.5 712.3 961.5 C713.4 966.5 713.7 975.4 712.3 981.5 C710.9 987.7 707.5 993.5 703.9 998.6 C700.3 1003.6 695.1 1008.9 690.6 1011.9 C686.1 1015 679.2 1016.1 676.9 1016.9" stroke-width="1.75" fill="none"/>
<ellipse cx="706.9" cy="945.6" rx="3" ry="1.8" stroke-width="2.45" fill="none" transform="rotate(-35 706.9 945.6)"/>
<ellipse cx="662.8" cy="1021.6" rx="2.2" ry="3.7" stroke-width="2.45" fill="none" transform="rotate(25 662.8 1021.6)"/>
<circle cx="662.8" cy="971.5" r="2.2" fill="#000" stroke="none"/>
<circle cx="706.3" cy="995.9" r="2.2" fill="#000" stroke="none"/>
<circle cx="691.2" cy="955.8" r="4.7" fill="#000" stroke="none"/>
<path d="M643.5 961.5 L723.6 1008.2" stroke-width="2.25" fill="none"/>
<ellipse cx="735.3" cy="1013.6" rx="7.7" ry="7" stroke-width="3.85" fill="none" transform="rotate(-20 735.3 1013.6)"/>
<ellipse cx="737.3" cy="1014.3" rx="3.3" ry="5" stroke-width="2.45" fill="none" transform="rotate(20 737.3 1014.3)"/>
<path d="M744.5 1006.6 L854.5 974.5" stroke-width="3.05" fill="none"/>
<circle cx="745" cy="1006.6" r="1.5" fill="#000" stroke="none"/>
<path d="M610.9 918.1 L670.2 885.7 L673.9 878" stroke-width="2.35" fill="none"/>
<ellipse cx="600.9" cy="893" rx="4.2" ry="2.7" stroke-width="1.15" fill="#000" transform="rotate(-32 600.9 893)"/>
<ellipse cx="627.6" cy="899" rx="4.2" ry="2.7" stroke-width="1.15" fill="#000" transform="rotate(-32 627.6 899)"/>
<circle cx="570" cy="931.8" r="2.2" fill="#000" stroke="none"/>
<path d="M605.4 950.8 L608.1 952.8" stroke-width="4.45" fill="none"/>
<path d="M752 930.1 L772.9 922.8" stroke-width="2.25" fill="none"/>
<path d="M771 903 L767 925.1" stroke-width="3.45" fill="none"/>
<path d="M577.6 627.6 L618.5 605" stroke-width="2.35" fill="none"/>
<path d="M597.6 636.7 L665.2 600" stroke-width="2.35" fill="none"/>
<path d="M596.8 658.4 L686.9 609.4" stroke-width="2.35" fill="none"/>
<path d="M572.6 631.1 L604.3 647.1" stroke-width="6.05" fill="none"/>
<path d="M573.4 631.4 L598.8 644.1" stroke-width="2.65" fill="none" stroke="#fff"/>
<path d="M576.1 638.4 L576.7 647.8 L595.1 658.4 L597.8 650.1" stroke-width="2.65" fill="none"/>
<path d="M580.1 643.7 L580.9 648.4 L593.4 655.1" stroke-width="1.65" fill="none"/>
<path d="M595.1 658.4 L596.8 661.1" stroke-width="2.25" fill="none"/>
<ellipse cx="597.6" cy="624.4" rx="8.3" ry="4.7" stroke-width="4.05" fill="none"/>
<ellipse cx="597.6" cy="625" rx="4.3" ry="1.8" stroke-width="1.75" fill="none"/>
<path d="M597.6 598.3 L597.6 616.7" stroke-width="1.65" fill="none"/>
<path d="M562 609.5 L566.4 612.4" stroke-width="5.45" fill="none"/>
<path d="M568.7 613.7 L579.4 620" stroke-width="1.75" fill="none"/>
<path d="M688.6 605 L690.3 612.7 L710.3 624.4" stroke-width="3.45" fill="none"/>
<path d="M595.1 661.1 L578.4 742.3" stroke-width="2.35" fill="none"/>
<path d="M578.4 742.9 L595.9 753.6" stroke-width="2.35" fill="none"/>
<path d="M600.1 743.6 L591.8 777" stroke-width="2.15" fill="none"/>
<path d="M619.5 650.1 L613.5 677.8" stroke-width="2.15" fill="none"/>
<path d="M639.5 637.7 L629.5 687.8" stroke-width="2.15" fill="none"/>
<path d="M597.6 666.8 L597.6 676.8 L618.5 689.5 L619.5 697.9" stroke-width="1.75" fill="none"/>
<path d="M609.5 776 L613.5 765.3 L614.5 772 L620.2 767" stroke-width="2.65" fill="none"/>
<ellipse cx="653.5" cy="658.1" rx="9.7" ry="5" stroke-width="3.85" fill="none"/>
<path d="M647.2 646.4 C647.3 648.4 647 655.8 648 658.1 C649.1 660.4 651.7 660.1 653.5 660.1 C655.4 660.1 658.3 660.4 659.4 658.1 C660.5 655.8 659.8 648.4 659.9 646.4" stroke-width="2.45" fill="#fff"/>
<ellipse cx="653.5" cy="645.9" rx="6.3" ry="2.8" stroke-width="2.65" fill="#fff"/>
<path d="M653.5 635.1 L653.5 643.7" stroke-width="1.75" fill="none"/>
<path d="M666.1 648.4 L765.6 627.6" stroke-width="2.75" fill="none"/>
<circle cx="666.4" cy="648.8" r="1.7" fill="#000" stroke="none"/>
<ellipse cx="653.5" cy="676.8" rx="11" ry="6" stroke-width="3.85" fill="none"/>
<ellipse cx="653.5" cy="677.3" rx="6" ry="2.7" stroke-width="2.75" fill="none"/>
<path d="M671.1 673.5 L762.3 662.5" stroke-width="2.75" fill="none"/>
<circle cx="671.4" cy="673.6" r="1.7" fill="#000" stroke="none"/>
<path d="M647.5 692.5 C648 691.2 648.7 690.8 650.2 690.5 C651.8 690.2 655.3 690.1 656.9 690.5 C658.5 690.9 659.4 691.7 659.9 693 C660.4 694.3 660.5 697.2 659.9 698.5 C659.3 699.8 658.2 700.5 656.6 700.9 C654.9 701.2 651.8 701.3 650.2 700.9 C648.7 700.4 647.6 699.6 647.2 698.2 C646.8 696.8 647 693.8 647.5 692.5Z" stroke-width="3.45" fill="none"/>
<path d="M648.5 695.8 L658.6 695.8" stroke-width="2.65" fill="none"/>
<path d="M664.4 695.5 L762.3 698.4" stroke-width="2.75" fill="none"/>
<circle cx="664.7" cy="695.5" r="1.7" fill="#000" stroke="none"/>
<ellipse cx="618.8" cy="713.2" rx="9.7" ry="5" stroke-width="3.85" fill="none"/>
<path d="M612.5 701.5 C612.6 703.5 612.2 710.9 613.3 713.2 C614.4 715.5 616.9 715.2 618.8 715.2 C620.7 715.2 623.6 715.5 624.7 713.2 C625.7 710.9 625.1 703.5 625.2 701.5" stroke-width="2.45" fill="#fff"/>
<ellipse cx="618.8" cy="701" rx="6.3" ry="2.8" stroke-width="2.65" fill="#fff"/>
<path d="M632.7 712.2 L718.7 722.2" stroke-width="2.75" fill="none"/>
<circle cx="633" cy="712.2" r="1.7" fill="#000" stroke="none"/>
<ellipse cx="618.5" cy="731.9" rx="11" ry="6" stroke-width="3.85" fill="none"/>
<ellipse cx="618.5" cy="732.4" rx="6" ry="2.7" stroke-width="2.75" fill="none"/>
<path d="M636.9 733.6 L717 749.6" stroke-width="2.75" fill="none"/>
<circle cx="637.2" cy="733.6" r="1.7" fill="#000" stroke="none"/>
<path d="M698.9 883.5 C697.4 886.3 693.3 893.5 690.2 900.2 C687.1 906.9 682.7 916.9 680.2 923.6 C677.6 930.3 675.8 936.7 675.1 940.3 C674.5 943.9 676 944.5 676.1 945.3" stroke-width="2.35" fill="none"/>
<path d="M706.9 889.5 C705.5 893.3 701.2 904.1 698.5 911.9 C695.9 919.7 692.3 932.2 691 936.3" stroke-width="2.35" fill="none"/>
<text transform="translate(303.70 71.17) rotate(0.05) scale(1.067 1)" font-size="22.54">23</text>
<text transform="translate(356.00 146.00) rotate(0.05) scale(0.993 1)" font-size="23.14">22</text>
<text transform="translate(348.80 205.07) rotate(0.05) scale(0.938 1)" font-size="22.96">19</text>
<text transform="translate(336.40 266.10) rotate(0.05) scale(0.920 1)" font-size="22.71">21</text>
<text transform="translate(326.40 311.38) rotate(0.05) scale(1.040 1)" font-size="22.25">20</text>
<text transform="translate(314.20 371.37) rotate(0.05) scale(0.950 1)" font-size="22.96">19</text>
<text transform="translate(307.50 400.37) rotate(0.05) scale(0.924 1)" font-size="22.82">18</text>
<text transform="translate(300.90 441.60) rotate(0.05) scale(0.920 1)" font-size="24.20">17</text>
<text transform="translate(287.50 477.37) rotate(0.05) scale(0.924 1)" font-size="22.82">16</text>
<text transform="translate(508.20 237.30) rotate(0.05) scale(1.014 1)" font-size="22.57">24</text>
<text transform="translate(540.60 237.27) rotate(0.05) scale(1.019 1)" font-size="22.54">25</text>
<text transform="translate(508.20 317.36) rotate(0.05) scale(0.978 1)" font-size="23.66">26</text>
<text transform="translate(539.90 184.80) rotate(0.05) scale(0.995 1)" font-size="23.71">27</text>
<text transform="translate(657.20 101.37) rotate(0.05) scale(0.924 1)" font-size="22.82">6</text>
<text transform="translate(804.90 144.47) rotate(0.05) scale(0.967 1)" font-size="23.29">5</text>
<text transform="translate(719.80 222.27) rotate(0.05) scale(0.993 1)" font-size="22.68">3</text>
<text transform="translate(761.00 294.00) rotate(0.05) scale(0.971 1)" font-size="23.19">4</text>
<text transform="translate(553.30 377.40) rotate(0.05) scale(0.956 1)" font-size="23.00">2</text>
<text transform="translate(501.30 403.37) rotate(0.05) scale(0.920 1)" font-size="23.10">16</text>
<text transform="translate(544.60 433.67) rotate(0.05) scale(0.920 1)" font-size="23.29">15</text>
<text transform="translate(516.30 447.90) rotate(0.05) scale(0.921 1)" font-size="23.29">24</text>
<text transform="translate(724.20 407.40) rotate(0.05) scale(0.920 1)" font-size="23.33">7</text>
<text transform="translate(722.40 452.97) rotate(0.05) scale(0.948 1)" font-size="22.82">8</text>
<text transform="translate(378.20 544.80) rotate(0.05) scale(0.920 1)" font-size="23.62">14</text>
<text transform="translate(474.90 584.37) rotate(0.05) scale(0.920 1)" font-size="23.10">8</text>
<text transform="translate(434.50 606.50) rotate(0.05) scale(0.973 1)" font-size="23.14">24</text>
<text transform="translate(21.70 718.27) rotate(0.05) scale(0.930 1)" font-size="22.96">13</text>
<text transform="translate(1173.00 264.57) rotate(0.05) scale(0.987 1)" font-size="22.82">9</text>
<text transform="translate(1169.20 539.97) rotate(0.05) scale(0.983 1)" font-size="23.10">9</text>
<text transform="translate(871.80 577.47) rotate(0.05) scale(1.010 1)" font-size="23.10">28</text>
<text transform="translate(771.90 634.57) rotate(0.05) scale(0.975 1)" font-size="23.10">8</text>
<text transform="translate(768.20 670.37) rotate(0.05) scale(0.938 1)" font-size="22.96">10</text>
<text transform="translate(770.50 708.30) rotate(0.05) scale(0.920 1)" font-size="23.33">11</text>
<text transform="translate(729.50 731.97) rotate(0.05) scale(0.952 1)" font-size="23.10">8</text>
<text transform="translate(724.50 759.17) rotate(0.05) scale(0.920 1)" font-size="22.96">10</text>
<text transform="translate(725.30 791.40) rotate(0.05) scale(0.920 1)" font-size="23.19">11</text>
<text transform="translate(949.40 794.00) rotate(0.05) scale(0.920 1)" font-size="23.43">12</text>
<text transform="translate(859.50 983.27) rotate(0.05) scale(0.940 1)" font-size="22.82">13</text>
<path d="M387.7 551 L386.1 580" stroke-width="3.05" fill="none"/>
<path d="M387.7 551 L396.1 580" stroke-width="3.05" fill="none"/>
<path d="M50.1 706 L130.2 680.1" stroke-width="2.95" fill="none"/>
<circle cx="130.2" cy="680.1" r="1.6" fill="#000" stroke="none"/>
<path d="M495 342.4 L508 349.6" stroke-width="1.65" fill="none"/>
<path d="M493.6 345.8 L506.6 353" stroke-width="1.65" fill="none"/>
<ellipse cx="509.6" cy="352.6" rx="2.8" ry="4.6" stroke-width="2.25" fill="none" transform="rotate(-28 509.6 352.6)"/>
<circle cx="503.2" cy="337.4" r="1.8" fill="#000" stroke="none"/>
</g></svg></body></html>
